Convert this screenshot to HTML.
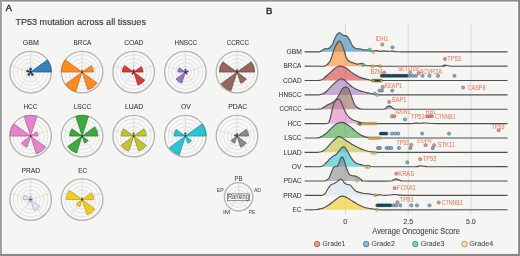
<!DOCTYPE html>
<html><head><meta charset="utf-8"><style>
html,body{margin:0;padding:0;background:#f5f5f3;}
body{width:520px;height:256px;overflow:hidden;}
svg{display:block;will-change:transform;}
text{font-family:"Liberation Sans",sans-serif;}
</style></head><body>
<svg width="520" height="256" viewBox="0 0 520 256">
<rect x="0" y="0" width="520" height="256" fill="#f5f5f3"/>
<text x="5.88" y="10.85" font-size="8.65" fill="#1e1e1e" stroke="#1e1e1e" stroke-width="0.35" textLength="6.14" lengthAdjust="spacingAndGlyphs">A</text>
<text x="266.12" y="14.40" font-size="9.01" fill="#1e1e1e" stroke="#1e1e1e" stroke-width="0.35" textLength="6.38" lengthAdjust="spacingAndGlyphs">B</text>
<text x="15.40" y="25.05" font-size="9.81" fill="#333" stroke="#333" stroke-width="0.12" textLength="130.53" lengthAdjust="spacingAndGlyphs">TP53 mutation across all tissues</text>
<circle cx="30.60" cy="72.10" r="20.80" fill="#f8f8f7"/>
<circle cx="30.60" cy="72.10" r="5.80" fill="none" stroke="#d9d7d4" stroke-width="0.7"/>
<circle cx="30.60" cy="72.10" r="9.60" fill="none" stroke="#d9d7d4" stroke-width="0.7"/>
<circle cx="30.60" cy="72.10" r="13.40" fill="none" stroke="#d9d7d4" stroke-width="0.7"/>
<circle cx="30.60" cy="72.10" r="17.20" fill="none" stroke="#d9d7d4" stroke-width="0.7"/>
<line x1="30.60" y1="72.10" x2="30.60" y2="51.30" stroke="#d9d7d4" stroke-width="0.7"/>
<line x1="30.60" y1="72.10" x2="50.38" y2="65.67" stroke="#d9d7d4" stroke-width="0.7"/>
<line x1="30.60" y1="72.10" x2="42.83" y2="88.93" stroke="#d9d7d4" stroke-width="0.7"/>
<line x1="30.60" y1="72.10" x2="18.37" y2="88.93" stroke="#d9d7d4" stroke-width="0.7"/>
<line x1="30.60" y1="72.10" x2="10.82" y2="65.67" stroke="#d9d7d4" stroke-width="0.7"/>
<circle cx="30.60" cy="72.10" r="20.80" fill="none" stroke="#b3b3b3" stroke-width="1.35"/>
<path d="M30.60,72.10 L31.82,68.34 A3.95,3.95 0 0 0 29.38,68.34 Z" fill="#1f3f60" stroke="#1f3f60" stroke-width="0.6" stroke-linejoin="round"/>
<path d="M30.60,72.10 L51.40,72.10 A20.80,20.80 0 0 0 47.43,59.87 Z" fill="#3484ba" stroke="#1f3f60" stroke-width="0.6" stroke-linejoin="round"/>
<path d="M30.60,72.10 L31.82,75.86 A3.95,3.95 0 0 0 33.80,74.42 Z" fill="#1f3f60" stroke="#1f3f60" stroke-width="0.6" stroke-linejoin="round"/>
<path d="M30.60,72.10 L27.40,74.42 A3.95,3.95 0 0 0 29.38,75.86 Z" fill="#1f3f60" stroke="#1f3f60" stroke-width="0.6" stroke-linejoin="round"/>
<path d="M30.60,72.10 L27.40,69.78 A3.95,3.95 0 0 0 26.65,72.10 Z" fill="#1f3f60" stroke="#1f3f60" stroke-width="0.6" stroke-linejoin="round"/>
<circle cx="30.60" cy="72.10" r="0.9" fill="#222"/>
<text x="22.85" y="44.60" font-size="7.55" fill="#363636" stroke="#363636" stroke-width="0.08" textLength="15.92" lengthAdjust="spacingAndGlyphs">GBM</text>
<circle cx="82.10" cy="72.10" r="20.80" fill="#f8f8f7"/>
<circle cx="82.10" cy="72.10" r="5.80" fill="none" stroke="#d9d7d4" stroke-width="0.7"/>
<circle cx="82.10" cy="72.10" r="9.60" fill="none" stroke="#d9d7d4" stroke-width="0.7"/>
<circle cx="82.10" cy="72.10" r="13.40" fill="none" stroke="#d9d7d4" stroke-width="0.7"/>
<circle cx="82.10" cy="72.10" r="17.20" fill="none" stroke="#d9d7d4" stroke-width="0.7"/>
<line x1="82.10" y1="72.10" x2="82.10" y2="51.30" stroke="#d9d7d4" stroke-width="0.7"/>
<line x1="82.10" y1="72.10" x2="101.88" y2="65.67" stroke="#d9d7d4" stroke-width="0.7"/>
<line x1="82.10" y1="72.10" x2="94.33" y2="88.93" stroke="#d9d7d4" stroke-width="0.7"/>
<line x1="82.10" y1="72.10" x2="69.87" y2="88.93" stroke="#d9d7d4" stroke-width="0.7"/>
<line x1="82.10" y1="72.10" x2="62.32" y2="65.67" stroke="#d9d7d4" stroke-width="0.7"/>
<circle cx="82.10" cy="72.10" r="20.80" fill="none" stroke="#b3b3b3" stroke-width="1.35"/>
<path d="M82.10,72.10 L82.74,70.12 A2.08,2.08 0 0 0 81.46,70.12 Z" fill="#b8600f" stroke="#b8600f" stroke-width="0.6" stroke-linejoin="round"/>
<path d="M82.10,72.10 L93.54,72.10 A11.44,11.44 0 0 0 91.36,65.38 Z" fill="#fb8b25" stroke="#b8600f" stroke-width="0.6" stroke-linejoin="round"/>
<path d="M82.10,72.10 L87.88,89.90 A18.72,18.72 0 0 0 97.24,83.10 Z" fill="#fb8b25" stroke="#b8600f" stroke-width="0.6" stroke-linejoin="round"/>
<path d="M82.10,72.10 L65.27,84.33 A20.80,20.80 0 0 0 75.67,91.88 Z" fill="#fb8b25" stroke="#b8600f" stroke-width="0.6" stroke-linejoin="round"/>
<path d="M82.10,72.10 L65.27,59.87 A20.80,20.80 0 0 0 61.30,72.10 Z" fill="#fb8b25" stroke="#b8600f" stroke-width="0.6" stroke-linejoin="round"/>
<circle cx="82.10" cy="72.10" r="0.9" fill="#222"/>
<text x="73.58" y="44.60" font-size="7.55" fill="#363636" stroke="#363636" stroke-width="0.08" textLength="17.64" lengthAdjust="spacingAndGlyphs">BRCA</text>
<circle cx="133.70" cy="72.10" r="20.80" fill="#f8f8f7"/>
<circle cx="133.70" cy="72.10" r="5.80" fill="none" stroke="#d9d7d4" stroke-width="0.7"/>
<circle cx="133.70" cy="72.10" r="9.60" fill="none" stroke="#d9d7d4" stroke-width="0.7"/>
<circle cx="133.70" cy="72.10" r="13.40" fill="none" stroke="#d9d7d4" stroke-width="0.7"/>
<circle cx="133.70" cy="72.10" r="17.20" fill="none" stroke="#d9d7d4" stroke-width="0.7"/>
<line x1="133.70" y1="72.10" x2="133.70" y2="51.30" stroke="#d9d7d4" stroke-width="0.7"/>
<line x1="133.70" y1="72.10" x2="153.48" y2="65.67" stroke="#d9d7d4" stroke-width="0.7"/>
<line x1="133.70" y1="72.10" x2="145.93" y2="88.93" stroke="#d9d7d4" stroke-width="0.7"/>
<line x1="133.70" y1="72.10" x2="121.47" y2="88.93" stroke="#d9d7d4" stroke-width="0.7"/>
<line x1="133.70" y1="72.10" x2="113.92" y2="65.67" stroke="#d9d7d4" stroke-width="0.7"/>
<circle cx="133.70" cy="72.10" r="20.80" fill="none" stroke="#b3b3b3" stroke-width="1.35"/>
<path d="M133.70,72.10 L134.47,69.73 A2.50,2.50 0 0 0 132.93,69.73 Z" fill="#8a1c1c" stroke="#8a1c1c" stroke-width="0.6" stroke-linejoin="round"/>
<path d="M133.70,72.10 L143.06,72.10 A9.36,9.36 0 0 0 141.27,66.60 Z" fill="#d63c3c" stroke="#8a1c1c" stroke-width="0.6" stroke-linejoin="round"/>
<path d="M133.70,72.10 L137.94,85.16 A13.73,13.73 0 0 0 144.81,80.17 Z" fill="#d63c3c" stroke="#8a1c1c" stroke-width="0.6" stroke-linejoin="round"/>
<path d="M133.70,72.10 L131.68,73.57 A2.50,2.50 0 0 0 132.93,74.47 Z" fill="#8a1c1c" stroke="#8a1c1c" stroke-width="0.6" stroke-linejoin="round"/>
<path d="M133.70,72.10 L124.44,65.38 A11.44,11.44 0 0 0 122.26,72.10 Z" fill="#d63c3c" stroke="#8a1c1c" stroke-width="0.6" stroke-linejoin="round"/>
<circle cx="133.70" cy="72.10" r="0.9" fill="#222"/>
<text x="124.27" y="44.60" font-size="7.55" fill="#363636" stroke="#363636" stroke-width="0.08" textLength="19.14" lengthAdjust="spacingAndGlyphs">COAD</text>
<circle cx="185.40" cy="72.10" r="20.80" fill="#f8f8f7"/>
<circle cx="185.40" cy="72.10" r="5.80" fill="none" stroke="#d9d7d4" stroke-width="0.7"/>
<circle cx="185.40" cy="72.10" r="9.60" fill="none" stroke="#d9d7d4" stroke-width="0.7"/>
<circle cx="185.40" cy="72.10" r="13.40" fill="none" stroke="#d9d7d4" stroke-width="0.7"/>
<circle cx="185.40" cy="72.10" r="17.20" fill="none" stroke="#d9d7d4" stroke-width="0.7"/>
<line x1="185.40" y1="72.10" x2="185.40" y2="51.30" stroke="#d9d7d4" stroke-width="0.7"/>
<line x1="185.40" y1="72.10" x2="205.18" y2="65.67" stroke="#d9d7d4" stroke-width="0.7"/>
<line x1="185.40" y1="72.10" x2="197.63" y2="88.93" stroke="#d9d7d4" stroke-width="0.7"/>
<line x1="185.40" y1="72.10" x2="173.17" y2="88.93" stroke="#d9d7d4" stroke-width="0.7"/>
<line x1="185.40" y1="72.10" x2="165.62" y2="65.67" stroke="#d9d7d4" stroke-width="0.7"/>
<circle cx="185.40" cy="72.10" r="20.80" fill="none" stroke="#b3b3b3" stroke-width="1.35"/>
<path d="M185.40,72.10 L186.30,69.33 A2.91,2.91 0 0 0 184.50,69.33 Z" fill="#5e3e80" stroke="#5e3e80" stroke-width="0.6" stroke-linejoin="round"/>
<path d="M185.40,72.10 L188.31,72.10 A2.91,2.91 0 0 0 187.76,70.39 Z" fill="#5e3e80" stroke="#5e3e80" stroke-width="0.6" stroke-linejoin="round"/>
<path d="M185.40,72.10 L186.17,74.47 A2.50,2.50 0 0 0 187.42,73.57 Z" fill="#5e3e80" stroke="#5e3e80" stroke-width="0.6" stroke-linejoin="round"/>
<path d="M185.40,72.10 L175.98,78.95 A11.65,11.65 0 0 0 181.80,83.18 Z" fill="#9e75c2" stroke="#5e3e80" stroke-width="0.6" stroke-linejoin="round"/>
<path d="M185.40,72.10 L179.34,67.70 A7.49,7.49 0 0 0 177.91,72.10 Z" fill="#9e75c2" stroke="#5e3e80" stroke-width="0.6" stroke-linejoin="round"/>
<circle cx="185.40" cy="72.10" r="0.9" fill="#222"/>
<text x="174.58" y="44.60" font-size="7.55" fill="#363636" stroke="#363636" stroke-width="0.08" textLength="22.55" lengthAdjust="spacingAndGlyphs">HNSCC</text>
<circle cx="237.00" cy="72.10" r="20.80" fill="#f8f8f7"/>
<circle cx="237.00" cy="72.10" r="5.80" fill="none" stroke="#d9d7d4" stroke-width="0.7"/>
<circle cx="237.00" cy="72.10" r="9.60" fill="none" stroke="#d9d7d4" stroke-width="0.7"/>
<circle cx="237.00" cy="72.10" r="13.40" fill="none" stroke="#d9d7d4" stroke-width="0.7"/>
<circle cx="237.00" cy="72.10" r="17.20" fill="none" stroke="#d9d7d4" stroke-width="0.7"/>
<line x1="237.00" y1="72.10" x2="237.00" y2="51.30" stroke="#d9d7d4" stroke-width="0.7"/>
<line x1="237.00" y1="72.10" x2="256.78" y2="65.67" stroke="#d9d7d4" stroke-width="0.7"/>
<line x1="237.00" y1="72.10" x2="249.23" y2="88.93" stroke="#d9d7d4" stroke-width="0.7"/>
<line x1="237.00" y1="72.10" x2="224.77" y2="88.93" stroke="#d9d7d4" stroke-width="0.7"/>
<line x1="237.00" y1="72.10" x2="217.22" y2="65.67" stroke="#d9d7d4" stroke-width="0.7"/>
<circle cx="237.00" cy="72.10" r="20.80" fill="none" stroke="#b3b3b3" stroke-width="1.35"/>
<path d="M237.00,72.10 L237.77,69.73 A2.50,2.50 0 0 0 236.23,69.73 Z" fill="#5a3530" stroke="#5a3530" stroke-width="0.6" stroke-linejoin="round"/>
<path d="M237.00,72.10 L254.68,72.10 A17.68,17.68 0 0 0 251.30,61.71 Z" fill="#97665c" stroke="#5a3530" stroke-width="0.6" stroke-linejoin="round"/>
<path d="M237.00,72.10 L240.60,83.18 A11.65,11.65 0 0 0 246.42,78.95 Z" fill="#97665c" stroke="#5a3530" stroke-width="0.6" stroke-linejoin="round"/>
<path d="M237.00,72.10 L221.01,83.71 A19.76,19.76 0 0 0 230.89,90.89 Z" fill="#97665c" stroke="#5a3530" stroke-width="0.6" stroke-linejoin="round"/>
<path d="M237.00,72.10 L222.70,61.71 A17.68,17.68 0 0 0 219.32,72.10 Z" fill="#97665c" stroke="#5a3530" stroke-width="0.6" stroke-linejoin="round"/>
<circle cx="237.00" cy="72.10" r="0.9" fill="#222"/>
<text x="226.69" y="44.60" font-size="7.55" fill="#363636" stroke="#363636" stroke-width="0.08" textLength="22.23" lengthAdjust="spacingAndGlyphs">CCRCC</text>
<circle cx="30.60" cy="136.10" r="20.80" fill="#f8f8f7"/>
<circle cx="30.60" cy="136.10" r="5.80" fill="none" stroke="#d9d7d4" stroke-width="0.7"/>
<circle cx="30.60" cy="136.10" r="9.60" fill="none" stroke="#d9d7d4" stroke-width="0.7"/>
<circle cx="30.60" cy="136.10" r="13.40" fill="none" stroke="#d9d7d4" stroke-width="0.7"/>
<circle cx="30.60" cy="136.10" r="17.20" fill="none" stroke="#d9d7d4" stroke-width="0.7"/>
<line x1="30.60" y1="136.10" x2="30.60" y2="115.30" stroke="#d9d7d4" stroke-width="0.7"/>
<line x1="30.60" y1="136.10" x2="50.38" y2="129.67" stroke="#d9d7d4" stroke-width="0.7"/>
<line x1="30.60" y1="136.10" x2="42.83" y2="152.93" stroke="#d9d7d4" stroke-width="0.7"/>
<line x1="30.60" y1="136.10" x2="18.37" y2="152.93" stroke="#d9d7d4" stroke-width="0.7"/>
<line x1="30.60" y1="136.10" x2="10.82" y2="129.67" stroke="#d9d7d4" stroke-width="0.7"/>
<circle cx="30.60" cy="136.10" r="20.80" fill="none" stroke="#b3b3b3" stroke-width="1.35"/>
<path d="M30.60,136.10 L37.03,116.32 A20.80,20.80 0 0 0 24.17,116.32 Z" fill="#e584c7" stroke="#a04f88" stroke-width="0.6" stroke-linejoin="round"/>
<path d="M30.60,136.10 L38.09,136.10 A7.49,7.49 0 0 0 36.66,131.70 Z" fill="#e584c7" stroke="#a04f88" stroke-width="0.6" stroke-linejoin="round"/>
<path d="M30.60,136.10 L36.38,153.90 A18.72,18.72 0 0 0 45.74,147.10 Z" fill="#e584c7" stroke="#a04f88" stroke-width="0.6" stroke-linejoin="round"/>
<path d="M30.60,136.10 L21.18,142.95 A11.65,11.65 0 0 0 27.00,147.18 Z" fill="#e584c7" stroke="#a04f88" stroke-width="0.6" stroke-linejoin="round"/>
<path d="M30.60,136.10 L13.77,123.87 A20.80,20.80 0 0 0 9.80,136.10 Z" fill="#e584c7" stroke="#a04f88" stroke-width="0.6" stroke-linejoin="round"/>
<circle cx="30.60" cy="136.10" r="0.9" fill="#222"/>
<text x="23.48" y="109.00" font-size="7.55" fill="#363636" stroke="#363636" stroke-width="0.08" textLength="13.86" lengthAdjust="spacingAndGlyphs">HCC</text>
<circle cx="82.10" cy="136.10" r="20.80" fill="#f8f8f7"/>
<circle cx="82.10" cy="136.10" r="5.80" fill="none" stroke="#d9d7d4" stroke-width="0.7"/>
<circle cx="82.10" cy="136.10" r="9.60" fill="none" stroke="#d9d7d4" stroke-width="0.7"/>
<circle cx="82.10" cy="136.10" r="13.40" fill="none" stroke="#d9d7d4" stroke-width="0.7"/>
<circle cx="82.10" cy="136.10" r="17.20" fill="none" stroke="#d9d7d4" stroke-width="0.7"/>
<line x1="82.10" y1="136.10" x2="82.10" y2="115.30" stroke="#d9d7d4" stroke-width="0.7"/>
<line x1="82.10" y1="136.10" x2="101.88" y2="129.67" stroke="#d9d7d4" stroke-width="0.7"/>
<line x1="82.10" y1="136.10" x2="94.33" y2="152.93" stroke="#d9d7d4" stroke-width="0.7"/>
<line x1="82.10" y1="136.10" x2="69.87" y2="152.93" stroke="#d9d7d4" stroke-width="0.7"/>
<line x1="82.10" y1="136.10" x2="62.32" y2="129.67" stroke="#d9d7d4" stroke-width="0.7"/>
<circle cx="82.10" cy="136.10" r="20.80" fill="none" stroke="#b3b3b3" stroke-width="1.35"/>
<path d="M82.10,136.10 L88.53,116.32 A20.80,20.80 0 0 0 75.67,116.32 Z" fill="#40a840" stroke="#1d6a22" stroke-width="0.6" stroke-linejoin="round"/>
<path d="M82.10,136.10 L97.91,136.10 A15.81,15.81 0 0 0 94.89,126.81 Z" fill="#40a840" stroke="#1d6a22" stroke-width="0.6" stroke-linejoin="round"/>
<path d="M82.10,136.10 L84.41,143.22 A7.49,7.49 0 0 0 88.16,140.50 Z" fill="#40a840" stroke="#1d6a22" stroke-width="0.6" stroke-linejoin="round"/>
<path d="M82.10,136.10 L67.63,146.61 A17.89,17.89 0 0 0 76.57,153.11 Z" fill="#40a840" stroke="#1d6a22" stroke-width="0.6" stroke-linejoin="round"/>
<path d="M82.10,136.10 L72.00,128.76 A12.48,12.48 0 0 0 69.62,136.10 Z" fill="#40a840" stroke="#1d6a22" stroke-width="0.6" stroke-linejoin="round"/>
<circle cx="82.10" cy="136.10" r="0.9" fill="#222"/>
<text x="73.66" y="109.00" font-size="7.55" fill="#363636" stroke="#363636" stroke-width="0.08" textLength="17.59" lengthAdjust="spacingAndGlyphs">LSCC</text>
<circle cx="133.70" cy="136.10" r="20.80" fill="#f8f8f7"/>
<circle cx="133.70" cy="136.10" r="5.80" fill="none" stroke="#d9d7d4" stroke-width="0.7"/>
<circle cx="133.70" cy="136.10" r="9.60" fill="none" stroke="#d9d7d4" stroke-width="0.7"/>
<circle cx="133.70" cy="136.10" r="13.40" fill="none" stroke="#d9d7d4" stroke-width="0.7"/>
<circle cx="133.70" cy="136.10" r="17.20" fill="none" stroke="#d9d7d4" stroke-width="0.7"/>
<line x1="133.70" y1="136.10" x2="133.70" y2="115.30" stroke="#d9d7d4" stroke-width="0.7"/>
<line x1="133.70" y1="136.10" x2="153.48" y2="129.67" stroke="#d9d7d4" stroke-width="0.7"/>
<line x1="133.70" y1="136.10" x2="145.93" y2="152.93" stroke="#d9d7d4" stroke-width="0.7"/>
<line x1="133.70" y1="136.10" x2="121.47" y2="152.93" stroke="#d9d7d4" stroke-width="0.7"/>
<line x1="133.70" y1="136.10" x2="113.92" y2="129.67" stroke="#d9d7d4" stroke-width="0.7"/>
<circle cx="133.70" cy="136.10" r="20.80" fill="none" stroke="#b3b3b3" stroke-width="1.35"/>
<path d="M133.70,136.10 L134.73,132.93 A3.33,3.33 0 0 0 132.67,132.93 Z" fill="#7d7e14" stroke="#7d7e14" stroke-width="0.6" stroke-linejoin="round"/>
<path d="M133.70,136.10 L146.18,136.10 A12.48,12.48 0 0 0 143.80,128.76 Z" fill="#c2c337" stroke="#7d7e14" stroke-width="0.6" stroke-linejoin="round"/>
<path d="M133.70,136.10 L138.58,151.13 A15.81,15.81 0 0 0 146.49,145.39 Z" fill="#c2c337" stroke="#7d7e14" stroke-width="0.6" stroke-linejoin="round"/>
<path d="M133.70,136.10 L120.91,145.39 A15.81,15.81 0 0 0 128.82,151.13 Z" fill="#c2c337" stroke="#7d7e14" stroke-width="0.6" stroke-linejoin="round"/>
<path d="M133.70,136.10 L123.60,128.76 A12.48,12.48 0 0 0 121.22,136.10 Z" fill="#c2c337" stroke="#7d7e14" stroke-width="0.6" stroke-linejoin="round"/>
<circle cx="133.70" cy="136.10" r="0.9" fill="#222"/>
<text x="124.93" y="109.00" font-size="7.55" fill="#363636" stroke="#363636" stroke-width="0.08" textLength="18.39" lengthAdjust="spacingAndGlyphs">LUAD</text>
<circle cx="185.40" cy="136.10" r="20.80" fill="#f8f8f7"/>
<circle cx="185.40" cy="136.10" r="5.80" fill="none" stroke="#d9d7d4" stroke-width="0.7"/>
<circle cx="185.40" cy="136.10" r="9.60" fill="none" stroke="#d9d7d4" stroke-width="0.7"/>
<circle cx="185.40" cy="136.10" r="13.40" fill="none" stroke="#d9d7d4" stroke-width="0.7"/>
<circle cx="185.40" cy="136.10" r="17.20" fill="none" stroke="#d9d7d4" stroke-width="0.7"/>
<line x1="185.40" y1="136.10" x2="185.40" y2="115.30" stroke="#d9d7d4" stroke-width="0.7"/>
<line x1="185.40" y1="136.10" x2="205.18" y2="129.67" stroke="#d9d7d4" stroke-width="0.7"/>
<line x1="185.40" y1="136.10" x2="197.63" y2="152.93" stroke="#d9d7d4" stroke-width="0.7"/>
<line x1="185.40" y1="136.10" x2="173.17" y2="152.93" stroke="#d9d7d4" stroke-width="0.7"/>
<line x1="185.40" y1="136.10" x2="165.62" y2="129.67" stroke="#d9d7d4" stroke-width="0.7"/>
<circle cx="185.40" cy="136.10" r="20.80" fill="none" stroke="#b3b3b3" stroke-width="1.35"/>
<path d="M185.40,136.10 L186.43,132.93 A3.33,3.33 0 0 0 184.37,132.93 Z" fill="#127c88" stroke="#127c88" stroke-width="0.6" stroke-linejoin="round"/>
<path d="M185.40,136.10 L206.20,136.10 A20.80,20.80 0 0 0 202.23,123.87 Z" fill="#2dc3d3" stroke="#127c88" stroke-width="0.6" stroke-linejoin="round"/>
<path d="M185.40,136.10 L187.71,143.22 A7.49,7.49 0 0 0 191.46,140.50 Z" fill="#2dc3d3" stroke="#127c88" stroke-width="0.6" stroke-linejoin="round"/>
<path d="M185.40,136.10 L169.41,147.71 A19.76,19.76 0 0 0 179.29,154.89 Z" fill="#2dc3d3" stroke="#127c88" stroke-width="0.6" stroke-linejoin="round"/>
<path d="M185.40,136.10 L176.14,129.38 A11.44,11.44 0 0 0 173.96,136.10 Z" fill="#2dc3d3" stroke="#127c88" stroke-width="0.6" stroke-linejoin="round"/>
<circle cx="185.40" cy="136.10" r="0.9" fill="#222"/>
<text x="180.93" y="109.00" font-size="7.55" fill="#363636" stroke="#363636" stroke-width="0.08" textLength="9.85" lengthAdjust="spacingAndGlyphs">OV</text>
<circle cx="237.00" cy="136.10" r="20.80" fill="#f8f8f7"/>
<circle cx="237.00" cy="136.10" r="5.80" fill="none" stroke="#d9d7d4" stroke-width="0.7"/>
<circle cx="237.00" cy="136.10" r="9.60" fill="none" stroke="#d9d7d4" stroke-width="0.7"/>
<circle cx="237.00" cy="136.10" r="13.40" fill="none" stroke="#d9d7d4" stroke-width="0.7"/>
<circle cx="237.00" cy="136.10" r="17.20" fill="none" stroke="#d9d7d4" stroke-width="0.7"/>
<line x1="237.00" y1="136.10" x2="237.00" y2="115.30" stroke="#d9d7d4" stroke-width="0.7"/>
<line x1="237.00" y1="136.10" x2="256.78" y2="129.67" stroke="#d9d7d4" stroke-width="0.7"/>
<line x1="237.00" y1="136.10" x2="249.23" y2="152.93" stroke="#d9d7d4" stroke-width="0.7"/>
<line x1="237.00" y1="136.10" x2="224.77" y2="152.93" stroke="#d9d7d4" stroke-width="0.7"/>
<line x1="237.00" y1="136.10" x2="217.22" y2="129.67" stroke="#d9d7d4" stroke-width="0.7"/>
<circle cx="237.00" cy="136.10" r="20.80" fill="none" stroke="#b3b3b3" stroke-width="1.35"/>
<path d="M237.00,136.10 L237.84,133.53 A2.70,2.70 0 0 0 236.16,133.53 Z" fill="#4f4f4f" stroke="#4f4f4f" stroke-width="0.6" stroke-linejoin="round"/>
<path d="M237.00,136.10 L248.65,136.10 A11.65,11.65 0 0 0 246.42,129.25 Z" fill="#8b8b8b" stroke="#4f4f4f" stroke-width="0.6" stroke-linejoin="round"/>
<path d="M237.00,136.10 L240.60,147.18 A11.65,11.65 0 0 0 246.42,142.95 Z" fill="#8b8b8b" stroke="#4f4f4f" stroke-width="0.6" stroke-linejoin="round"/>
<path d="M237.00,136.10 L230.94,140.50 A7.49,7.49 0 0 0 234.69,143.22 Z" fill="#8b8b8b" stroke="#4f4f4f" stroke-width="0.6" stroke-linejoin="round"/>
<path d="M237.00,136.10 L234.81,134.51 A2.70,2.70 0 0 0 234.30,136.10 Z" fill="#4f4f4f" stroke="#4f4f4f" stroke-width="0.6" stroke-linejoin="round"/>
<circle cx="237.00" cy="136.10" r="0.9" fill="#222"/>
<text x="228.19" y="109.00" font-size="7.55" fill="#363636" stroke="#363636" stroke-width="0.08" textLength="19.07" lengthAdjust="spacingAndGlyphs">PDAC</text>
<circle cx="30.60" cy="199.60" r="20.80" fill="#f8f8f7"/>
<circle cx="30.60" cy="199.60" r="5.80" fill="none" stroke="#d9d7d4" stroke-width="0.7"/>
<circle cx="30.60" cy="199.60" r="9.60" fill="none" stroke="#d9d7d4" stroke-width="0.7"/>
<circle cx="30.60" cy="199.60" r="13.40" fill="none" stroke="#d9d7d4" stroke-width="0.7"/>
<circle cx="30.60" cy="199.60" r="17.20" fill="none" stroke="#d9d7d4" stroke-width="0.7"/>
<line x1="30.60" y1="199.60" x2="30.60" y2="178.80" stroke="#d9d7d4" stroke-width="0.7"/>
<line x1="30.60" y1="199.60" x2="50.38" y2="193.17" stroke="#d9d7d4" stroke-width="0.7"/>
<line x1="30.60" y1="199.60" x2="42.83" y2="216.43" stroke="#d9d7d4" stroke-width="0.7"/>
<line x1="30.60" y1="199.60" x2="18.37" y2="216.43" stroke="#d9d7d4" stroke-width="0.7"/>
<line x1="30.60" y1="199.60" x2="10.82" y2="193.17" stroke="#d9d7d4" stroke-width="0.7"/>
<circle cx="30.60" cy="199.60" r="20.80" fill="none" stroke="#b3b3b3" stroke-width="1.35"/>
<path d="M30.60,199.60 L31.63,196.43 A3.33,3.33 0 0 0 29.57,196.43 Z" fill="#dce7f3" stroke="#8d99a6" stroke-width="0.6" stroke-linejoin="round"/>
<path d="M30.60,199.60 L32.68,199.60 A2.08,2.08 0 0 0 32.28,198.38 Z" fill="#dce7f3" stroke="#8d99a6" stroke-width="0.6" stroke-linejoin="round"/>
<path d="M30.60,199.60 L34.20,210.68 A11.65,11.65 0 0 0 40.02,206.45 Z" fill="#dce7f3" stroke="#8d99a6" stroke-width="0.6" stroke-linejoin="round"/>
<path d="M30.60,199.60 L27.91,201.56 A3.33,3.33 0 0 0 29.57,202.77 Z" fill="#dce7f3" stroke="#8d99a6" stroke-width="0.6" stroke-linejoin="round"/>
<path d="M30.60,199.60 L24.54,195.20 A7.49,7.49 0 0 0 23.11,199.60 Z" fill="#dce7f3" stroke="#8d99a6" stroke-width="0.6" stroke-linejoin="round"/>
<circle cx="30.60" cy="199.60" r="0.9" fill="#222"/>
<text x="21.45" y="172.80" font-size="7.55" fill="#363636" stroke="#363636" stroke-width="0.08" textLength="18.67" lengthAdjust="spacingAndGlyphs">PRAD</text>
<circle cx="82.10" cy="199.60" r="20.80" fill="#f8f8f7"/>
<circle cx="82.10" cy="199.60" r="5.80" fill="none" stroke="#d9d7d4" stroke-width="0.7"/>
<circle cx="82.10" cy="199.60" r="9.60" fill="none" stroke="#d9d7d4" stroke-width="0.7"/>
<circle cx="82.10" cy="199.60" r="13.40" fill="none" stroke="#d9d7d4" stroke-width="0.7"/>
<circle cx="82.10" cy="199.60" r="17.20" fill="none" stroke="#d9d7d4" stroke-width="0.7"/>
<line x1="82.10" y1="199.60" x2="82.10" y2="178.80" stroke="#d9d7d4" stroke-width="0.7"/>
<line x1="82.10" y1="199.60" x2="101.88" y2="193.17" stroke="#d9d7d4" stroke-width="0.7"/>
<line x1="82.10" y1="199.60" x2="94.33" y2="216.43" stroke="#d9d7d4" stroke-width="0.7"/>
<line x1="82.10" y1="199.60" x2="69.87" y2="216.43" stroke="#d9d7d4" stroke-width="0.7"/>
<line x1="82.10" y1="199.60" x2="62.32" y2="193.17" stroke="#d9d7d4" stroke-width="0.7"/>
<circle cx="82.10" cy="199.60" r="20.80" fill="none" stroke="#b3b3b3" stroke-width="1.35"/>
<path d="M82.10,199.60 L82.74,197.62 A2.08,2.08 0 0 0 81.46,197.62 Z" fill="#a88a0c" stroke="#a88a0c" stroke-width="0.6" stroke-linejoin="round"/>
<path d="M82.10,199.60 L93.75,199.60 A11.65,11.65 0 0 0 91.52,192.75 Z" fill="#f4cd1c" stroke="#a88a0c" stroke-width="0.6" stroke-linejoin="round"/>
<path d="M82.10,199.60 L86.98,214.63 A15.81,15.81 0 0 0 94.89,208.89 Z" fill="#f4cd1c" stroke="#a88a0c" stroke-width="0.6" stroke-linejoin="round"/>
<path d="M82.10,199.60 L76.04,204.00 A7.49,7.49 0 0 0 79.79,206.72 Z" fill="#f4cd1c" stroke="#a88a0c" stroke-width="0.6" stroke-linejoin="round"/>
<path d="M82.10,199.60 L69.31,190.31 A15.81,15.81 0 0 0 66.29,199.60 Z" fill="#f4cd1c" stroke="#a88a0c" stroke-width="0.6" stroke-linejoin="round"/>
<circle cx="82.10" cy="199.60" r="0.9" fill="#222"/>
<text x="78.17" y="172.80" font-size="7.55" fill="#363636" stroke="#363636" stroke-width="0.08" textLength="8.97" lengthAdjust="spacingAndGlyphs">EC</text>
<circle cx="238.6" cy="196.8" r="14.2" fill="#f8f8f7"/>
<circle cx="238.60" cy="196.80" r="3.60" fill="none" stroke="#d9d7d4" stroke-width="0.7"/>
<circle cx="238.60" cy="196.80" r="7.00" fill="none" stroke="#d9d7d4" stroke-width="0.7"/>
<circle cx="238.60" cy="196.80" r="10.40" fill="none" stroke="#d9d7d4" stroke-width="0.7"/>
<line x1="238.60" y1="196.80" x2="238.60" y2="182.60" stroke="#d9d7d4" stroke-width="0.7"/>
<line x1="238.60" y1="196.80" x2="252.11" y2="192.41" stroke="#d9d7d4" stroke-width="0.7"/>
<line x1="238.60" y1="196.80" x2="246.95" y2="208.29" stroke="#d9d7d4" stroke-width="0.7"/>
<line x1="238.60" y1="196.80" x2="230.25" y2="208.29" stroke="#d9d7d4" stroke-width="0.7"/>
<line x1="238.60" y1="196.80" x2="225.09" y2="192.41" stroke="#d9d7d4" stroke-width="0.7"/>
<circle cx="238.60" cy="196.80" r="14.20" fill="none" stroke="#b4b4b4" stroke-width="1.35"/>
<rect x="227.4" y="193.9" width="22.2" height="6.8" fill="#f8f8f7" stroke="#666" stroke-width="0.7"/>
<text x="227.93" y="199.40" font-size="6.47" fill="#444" textLength="21.04" lengthAdjust="spacingAndGlyphs">Ranking</text>
<text x="234.51" y="180.50" font-size="6.32" fill="#444" stroke="#444" stroke-width="0.03" textLength="8.00" lengthAdjust="spacingAndGlyphs">PB</text>
<text x="253.89" y="192.00" font-size="6.16" fill="#444" stroke="#444" stroke-width="0.03" textLength="7.15" lengthAdjust="spacingAndGlyphs">AD</text>
<text x="248.79" y="213.90" font-size="6.16" fill="#444" stroke="#444" stroke-width="0.03" textLength="6.61" lengthAdjust="spacingAndGlyphs">PE</text>
<text x="223.00" y="213.90" font-size="6.16" fill="#444" stroke="#444" stroke-width="0.03" textLength="7.23" lengthAdjust="spacingAndGlyphs">IM</text>
<text x="216.87" y="192.00" font-size="6.16" fill="#444" stroke="#444" stroke-width="0.03" textLength="7.00" lengthAdjust="spacingAndGlyphs">EP</text>
<line x1="345.4" y1="23.7" x2="345.4" y2="214.3" stroke="#d2d2d0" stroke-width="0.8"/>
<line x1="408.2" y1="23.7" x2="408.2" y2="214.3" stroke="#d2d2d0" stroke-width="0.8"/>
<line x1="470.9" y1="23.7" x2="470.9" y2="214.3" stroke="#d2d2d0" stroke-width="0.8"/>
<path d="M304.6,51.80 L319.90,51.80 C320.38,51.50 321.98,50.50 322.80,50.00 C323.62,49.50 323.98,49.02 324.80,48.80 C325.62,48.58 326.82,48.92 327.70,48.70 C328.58,48.48 329.28,48.27 330.10,47.50 C330.92,46.73 331.87,45.48 332.60,44.10 C333.33,42.72 333.85,40.67 334.50,39.20 C335.15,37.73 335.85,36.30 336.50,35.30 C337.15,34.30 337.88,33.63 338.40,33.20 C338.92,32.77 339.10,32.58 339.60,32.70 C340.10,32.82 340.78,33.47 341.40,33.90 C342.02,34.33 342.73,35.02 343.30,35.30 C343.87,35.58 344.31,35.52 344.80,35.60 C345.29,35.68 345.68,35.43 346.25,35.80 C346.82,36.17 347.54,36.90 348.20,37.80 C348.86,38.70 349.55,39.98 350.20,41.20 C350.85,42.42 351.47,44.05 352.10,45.10 C352.73,46.15 353.18,46.90 354.00,47.50 C354.82,48.10 355.85,48.45 357.00,48.70 C358.15,48.95 359.77,48.77 360.90,49.00 C362.03,49.23 362.87,49.95 363.80,50.10 C364.73,50.25 365.55,49.83 366.50,49.90 C367.45,49.97 368.50,50.30 369.50,50.50 C370.50,50.70 371.42,51.10 372.50,51.10 C373.58,51.10 374.75,50.47 376.00,50.50 C377.25,50.53 378.67,51.23 380.00,51.30 C381.33,51.37 382.67,50.88 384.00,50.90 C385.33,50.92 386.67,51.37 388.00,51.40 C389.33,51.43 390.67,51.05 392.00,51.10 C393.33,51.15 394.67,51.58 396.00,51.70 C397.33,51.82 399.33,51.78 400.00,51.80 L507.6,51.80 Z" fill="#1f77b4" fill-opacity="0.52" stroke="none"/>
<path d="M304.6,51.80 L319.90,51.80 C320.38,51.50 321.98,50.50 322.80,50.00 C323.62,49.50 323.98,49.02 324.80,48.80 C325.62,48.58 326.82,48.92 327.70,48.70 C328.58,48.48 329.28,48.27 330.10,47.50 C330.92,46.73 331.87,45.48 332.60,44.10 C333.33,42.72 333.85,40.67 334.50,39.20 C335.15,37.73 335.85,36.30 336.50,35.30 C337.15,34.30 337.88,33.63 338.40,33.20 C338.92,32.77 339.10,32.58 339.60,32.70 C340.10,32.82 340.78,33.47 341.40,33.90 C342.02,34.33 342.73,35.02 343.30,35.30 C343.87,35.58 344.31,35.52 344.80,35.60 C345.29,35.68 345.68,35.43 346.25,35.80 C346.82,36.17 347.54,36.90 348.20,37.80 C348.86,38.70 349.55,39.98 350.20,41.20 C350.85,42.42 351.47,44.05 352.10,45.10 C352.73,46.15 353.18,46.90 354.00,47.50 C354.82,48.10 355.85,48.45 357.00,48.70 C358.15,48.95 359.77,48.77 360.90,49.00 C362.03,49.23 362.87,49.95 363.80,50.10 C364.73,50.25 365.55,49.83 366.50,49.90 C367.45,49.97 368.50,50.30 369.50,50.50 C370.50,50.70 371.42,51.10 372.50,51.10 C373.58,51.10 374.75,50.47 376.00,50.50 C377.25,50.53 378.67,51.23 380.00,51.30 C381.33,51.37 382.67,50.88 384.00,50.90 C385.33,50.92 386.67,51.37 388.00,51.40 C389.33,51.43 390.67,51.05 392.00,51.10 C393.33,51.15 394.67,51.58 396.00,51.70 C397.33,51.82 399.33,51.78 400.00,51.80 L507.6,51.80" fill="none" stroke="#505050" stroke-width="1.15" stroke-linejoin="round"/>
<text x="286.56" y="54.00" font-size="7.24" fill="#3a3a3a" stroke="#3a3a3a" stroke-width="0.08" textLength="15.28" lengthAdjust="spacingAndGlyphs">GBM</text>
<path d="M304.6,66.16 L323.50,66.20 C323.83,66.12 324.88,65.98 325.50,65.70 C326.12,65.42 326.62,65.00 327.20,64.50 C327.78,64.00 328.48,63.33 329.00,62.70 C329.52,62.07 329.80,61.82 330.30,60.70 C330.80,59.58 331.48,57.53 332.00,56.00 C332.52,54.47 332.90,52.95 333.40,51.50 C333.90,50.05 334.47,48.53 335.00,47.30 C335.53,46.07 336.03,45.07 336.60,44.10 C337.17,43.13 337.93,42.00 338.40,41.50 C338.87,41.00 339.05,41.10 339.40,41.10 C339.75,41.10 340.02,40.83 340.50,41.50 C340.98,42.17 341.67,43.52 342.30,45.10 C342.93,46.68 343.68,49.02 344.30,51.00 C344.92,52.98 345.42,55.50 346.00,57.00 C346.58,58.50 347.05,59.18 347.80,60.00 C348.55,60.82 349.47,61.38 350.50,61.90 C351.53,62.42 352.92,62.73 354.00,63.10 C355.08,63.47 356.08,63.98 357.00,64.10 C357.92,64.22 358.75,63.92 359.50,63.80 C360.25,63.68 360.83,63.35 361.50,63.40 C362.17,63.45 362.75,63.75 363.50,64.10 C364.25,64.45 364.92,65.22 366.00,65.50 C367.08,65.78 368.50,65.72 370.00,65.80 C371.50,65.88 373.33,66.00 375.00,66.00 C376.67,66.00 378.33,65.77 380.00,65.80 C381.67,65.83 375.00,66.13 385.00,66.20 C395.00,66.27 430.33,66.32 440.00,66.20 C449.67,66.08 442.17,65.70 443.00,65.50 C443.83,65.30 444.33,65.00 445.00,65.00 C445.67,65.00 446.17,65.30 447.00,65.50 C447.83,65.70 449.50,66.08 450.00,66.20 L507.6,66.16 Z" fill="#ff7f0e" fill-opacity="0.52" stroke="none"/>
<path d="M304.6,66.16 L323.50,66.20 C323.83,66.12 324.88,65.98 325.50,65.70 C326.12,65.42 326.62,65.00 327.20,64.50 C327.78,64.00 328.48,63.33 329.00,62.70 C329.52,62.07 329.80,61.82 330.30,60.70 C330.80,59.58 331.48,57.53 332.00,56.00 C332.52,54.47 332.90,52.95 333.40,51.50 C333.90,50.05 334.47,48.53 335.00,47.30 C335.53,46.07 336.03,45.07 336.60,44.10 C337.17,43.13 337.93,42.00 338.40,41.50 C338.87,41.00 339.05,41.10 339.40,41.10 C339.75,41.10 340.02,40.83 340.50,41.50 C340.98,42.17 341.67,43.52 342.30,45.10 C342.93,46.68 343.68,49.02 344.30,51.00 C344.92,52.98 345.42,55.50 346.00,57.00 C346.58,58.50 347.05,59.18 347.80,60.00 C348.55,60.82 349.47,61.38 350.50,61.90 C351.53,62.42 352.92,62.73 354.00,63.10 C355.08,63.47 356.08,63.98 357.00,64.10 C357.92,64.22 358.75,63.92 359.50,63.80 C360.25,63.68 360.83,63.35 361.50,63.40 C362.17,63.45 362.75,63.75 363.50,64.10 C364.25,64.45 364.92,65.22 366.00,65.50 C367.08,65.78 368.50,65.72 370.00,65.80 C371.50,65.88 373.33,66.00 375.00,66.00 C376.67,66.00 378.33,65.77 380.00,65.80 C381.67,65.83 375.00,66.13 385.00,66.20 C395.00,66.27 430.33,66.32 440.00,66.20 C449.67,66.08 442.17,65.70 443.00,65.50 C443.83,65.30 444.33,65.00 445.00,65.00 C445.67,65.00 446.17,65.30 447.00,65.50 C447.83,65.70 449.50,66.08 450.00,66.20 L507.6,66.16" fill="none" stroke="#505050" stroke-width="1.15" stroke-linejoin="round"/>
<text x="283.47" y="68.36" font-size="7.24" fill="#3a3a3a" stroke="#3a3a3a" stroke-width="0.08" textLength="17.84" lengthAdjust="spacingAndGlyphs">BRCA</text>
<path d="M304.6,80.52 L318.50,80.50 C318.83,80.43 319.78,80.33 320.50,80.10 C321.22,79.87 321.88,79.73 322.80,79.10 C323.72,78.47 325.05,77.13 326.00,76.30 C326.95,75.47 327.73,74.77 328.50,74.10 C329.27,73.43 329.90,72.93 330.60,72.30 C331.30,71.67 332.05,70.90 332.70,70.30 C333.35,69.70 333.87,69.20 334.50,68.70 C335.13,68.20 335.85,67.68 336.50,67.30 C337.15,66.92 337.82,66.60 338.40,66.40 C338.98,66.20 339.47,66.12 340.00,66.10 C340.53,66.08 341.10,66.19 341.60,66.30 C342.10,66.41 342.23,66.42 343.00,66.75 C343.77,67.08 345.18,67.64 346.25,68.30 C347.32,68.96 348.36,69.92 349.40,70.70 C350.44,71.48 351.33,72.23 352.50,73.00 C353.67,73.77 355.10,74.57 356.40,75.30 C357.70,76.03 358.87,76.80 360.30,77.40 C361.73,78.00 363.43,78.47 365.00,78.90 C366.57,79.33 368.37,79.73 369.70,80.00 C371.03,80.27 372.45,80.42 373.00,80.50 L507.6,80.52 Z" fill="#d62728" fill-opacity="0.52" stroke="none"/>
<path d="M304.6,80.52 L318.50,80.50 C318.83,80.43 319.78,80.33 320.50,80.10 C321.22,79.87 321.88,79.73 322.80,79.10 C323.72,78.47 325.05,77.13 326.00,76.30 C326.95,75.47 327.73,74.77 328.50,74.10 C329.27,73.43 329.90,72.93 330.60,72.30 C331.30,71.67 332.05,70.90 332.70,70.30 C333.35,69.70 333.87,69.20 334.50,68.70 C335.13,68.20 335.85,67.68 336.50,67.30 C337.15,66.92 337.82,66.60 338.40,66.40 C338.98,66.20 339.47,66.12 340.00,66.10 C340.53,66.08 341.10,66.19 341.60,66.30 C342.10,66.41 342.23,66.42 343.00,66.75 C343.77,67.08 345.18,67.64 346.25,68.30 C347.32,68.96 348.36,69.92 349.40,70.70 C350.44,71.48 351.33,72.23 352.50,73.00 C353.67,73.77 355.10,74.57 356.40,75.30 C357.70,76.03 358.87,76.80 360.30,77.40 C361.73,78.00 363.43,78.47 365.00,78.90 C366.57,79.33 368.37,79.73 369.70,80.00 C371.03,80.27 372.45,80.42 373.00,80.50 L507.6,80.52" fill="none" stroke="#505050" stroke-width="1.15" stroke-linejoin="round"/>
<text x="282.88" y="82.72" font-size="7.24" fill="#3a3a3a" stroke="#3a3a3a" stroke-width="0.08" textLength="18.73" lengthAdjust="spacingAndGlyphs">COAD</text>
<path d="M304.6,94.88 L319.00,94.90 C319.38,94.80 320.45,94.57 321.25,94.30 C322.05,94.03 323.01,93.72 323.80,93.30 C324.59,92.88 325.25,92.40 326.00,91.80 C326.75,91.20 327.53,90.48 328.30,89.70 C329.07,88.92 329.69,88.07 330.60,87.10 C331.51,86.13 332.85,84.77 333.75,83.90 C334.65,83.03 335.23,82.55 336.00,81.90 C336.77,81.25 337.70,80.48 338.40,80.00 C339.10,79.52 339.67,79.20 340.20,79.00 C340.73,78.80 341.10,78.75 341.60,78.80 C342.10,78.85 342.68,79.08 343.20,79.30 C343.72,79.52 343.93,79.45 344.70,80.10 C345.47,80.75 346.92,82.35 347.80,83.20 C348.68,84.05 349.22,84.55 350.00,85.20 C350.78,85.85 351.70,86.53 352.50,87.10 C353.30,87.67 354.02,88.15 354.80,88.60 C355.58,89.05 356.28,89.42 357.20,89.80 C358.12,90.18 359.27,90.57 360.30,90.90 C361.33,91.23 362.37,91.52 363.40,91.80 C364.43,92.08 365.45,92.35 366.50,92.60 C367.55,92.85 368.38,93.03 369.70,93.30 C371.02,93.57 373.02,93.93 374.40,94.20 C375.78,94.47 377.40,94.78 378.00,94.90 L507.6,94.88 Z" fill="#9467bd" fill-opacity="0.52" stroke="none"/>
<path d="M304.6,94.88 L319.00,94.90 C319.38,94.80 320.45,94.57 321.25,94.30 C322.05,94.03 323.01,93.72 323.80,93.30 C324.59,92.88 325.25,92.40 326.00,91.80 C326.75,91.20 327.53,90.48 328.30,89.70 C329.07,88.92 329.69,88.07 330.60,87.10 C331.51,86.13 332.85,84.77 333.75,83.90 C334.65,83.03 335.23,82.55 336.00,81.90 C336.77,81.25 337.70,80.48 338.40,80.00 C339.10,79.52 339.67,79.20 340.20,79.00 C340.73,78.80 341.10,78.75 341.60,78.80 C342.10,78.85 342.68,79.08 343.20,79.30 C343.72,79.52 343.93,79.45 344.70,80.10 C345.47,80.75 346.92,82.35 347.80,83.20 C348.68,84.05 349.22,84.55 350.00,85.20 C350.78,85.85 351.70,86.53 352.50,87.10 C353.30,87.67 354.02,88.15 354.80,88.60 C355.58,89.05 356.28,89.42 357.20,89.80 C358.12,90.18 359.27,90.57 360.30,90.90 C361.33,91.23 362.37,91.52 363.40,91.80 C364.43,92.08 365.45,92.35 366.50,92.60 C367.55,92.85 368.38,93.03 369.70,93.30 C371.02,93.57 373.02,93.93 374.40,94.20 C375.78,94.47 377.40,94.78 378.00,94.90 L507.6,94.88" fill="none" stroke="#505050" stroke-width="1.15" stroke-linejoin="round"/>
<text x="278.78" y="97.08" font-size="7.24" fill="#3a3a3a" stroke="#3a3a3a" stroke-width="0.08" textLength="22.76" lengthAdjust="spacingAndGlyphs">HNSCC</text>
<path d="M304.6,109.24 L318.00,109.20 C318.62,109.13 320.73,109.12 321.70,108.80 C322.67,108.48 323.15,107.78 323.80,107.30 C324.45,106.82 324.78,106.40 325.60,105.90 C326.43,105.40 327.85,104.72 328.75,104.30 C329.65,103.88 330.23,103.78 331.00,103.40 C331.77,103.02 332.60,102.62 333.40,102.00 C334.20,101.38 335.03,100.62 335.80,99.70 C336.57,98.78 337.30,97.62 338.00,96.50 C338.70,95.38 339.42,94.08 340.00,93.00 C340.58,91.92 340.97,90.83 341.50,90.00 C342.03,89.17 342.62,88.47 343.20,88.00 C343.78,87.53 344.40,87.30 345.00,87.20 C345.60,87.10 346.22,87.18 346.80,87.40 C347.38,87.62 347.97,87.73 348.50,88.50 C349.03,89.27 349.38,90.33 350.00,92.00 C350.62,93.67 351.57,96.72 352.20,98.50 C352.83,100.28 353.28,101.53 353.80,102.70 C354.32,103.87 354.77,104.73 355.30,105.50 C355.83,106.27 356.42,106.82 357.00,107.30 C357.58,107.78 358.13,108.12 358.80,108.40 C359.47,108.68 360.13,108.87 361.00,109.00 C361.87,109.13 360.33,109.17 364.00,109.20 C367.67,109.23 379.42,109.33 383.00,109.20 C386.58,109.07 384.75,108.85 385.50,108.40 C386.25,107.95 386.88,106.93 387.50,106.50 C388.12,106.07 388.62,105.80 389.20,105.80 C389.78,105.80 390.37,106.07 391.00,106.50 C391.63,106.93 392.33,107.95 393.00,108.40 C393.67,108.85 394.67,109.07 395.00,109.20 L507.6,109.24 Z" fill="#8c564b" fill-opacity="0.52" stroke="none"/>
<path d="M304.6,109.24 L318.00,109.20 C318.62,109.13 320.73,109.12 321.70,108.80 C322.67,108.48 323.15,107.78 323.80,107.30 C324.45,106.82 324.78,106.40 325.60,105.90 C326.43,105.40 327.85,104.72 328.75,104.30 C329.65,103.88 330.23,103.78 331.00,103.40 C331.77,103.02 332.60,102.62 333.40,102.00 C334.20,101.38 335.03,100.62 335.80,99.70 C336.57,98.78 337.30,97.62 338.00,96.50 C338.70,95.38 339.42,94.08 340.00,93.00 C340.58,91.92 340.97,90.83 341.50,90.00 C342.03,89.17 342.62,88.47 343.20,88.00 C343.78,87.53 344.40,87.30 345.00,87.20 C345.60,87.10 346.22,87.18 346.80,87.40 C347.38,87.62 347.97,87.73 348.50,88.50 C349.03,89.27 349.38,90.33 350.00,92.00 C350.62,93.67 351.57,96.72 352.20,98.50 C352.83,100.28 353.28,101.53 353.80,102.70 C354.32,103.87 354.77,104.73 355.30,105.50 C355.83,106.27 356.42,106.82 357.00,107.30 C357.58,107.78 358.13,108.12 358.80,108.40 C359.47,108.68 360.13,108.87 361.00,109.00 C361.87,109.13 360.33,109.17 364.00,109.20 C367.67,109.23 379.42,109.33 383.00,109.20 C386.58,109.07 384.75,108.85 385.50,108.40 C386.25,107.95 386.88,106.93 387.50,106.50 C388.12,106.07 388.62,105.80 389.20,105.80 C389.78,105.80 390.37,106.07 391.00,106.50 C391.63,106.93 392.33,107.95 393.00,108.40 C393.67,108.85 394.67,109.07 395.00,109.20 L507.6,109.24" fill="none" stroke="#505050" stroke-width="1.15" stroke-linejoin="round"/>
<text x="279.60" y="111.44" font-size="7.24" fill="#3a3a3a" stroke="#3a3a3a" stroke-width="0.08" textLength="21.93" lengthAdjust="spacingAndGlyphs">CCRCC</text>
<path d="M304.6,123.60 L326.50,123.60 C326.88,123.42 328.08,123.52 328.75,122.50 C329.42,121.48 329.98,119.42 330.50,117.50 C331.02,115.58 331.48,112.83 331.90,111.00 C332.32,109.17 332.62,107.82 333.00,106.50 C333.38,105.18 333.70,104.13 334.20,103.10 C334.70,102.07 335.35,100.97 336.00,100.30 C336.65,99.63 337.43,99.13 338.10,99.10 C338.77,99.07 339.48,99.57 340.00,100.10 C340.52,100.63 340.78,101.32 341.25,102.30 C341.72,103.28 342.28,104.72 342.80,106.00 C343.32,107.28 343.87,108.78 344.40,110.00 C344.93,111.22 345.48,112.38 346.00,113.30 C346.52,114.22 346.90,114.77 347.50,115.50 C348.10,116.23 348.82,117.05 349.60,117.70 C350.38,118.35 351.30,118.90 352.20,119.40 C353.10,119.90 353.97,120.30 355.00,120.70 C356.03,121.10 357.30,121.45 358.40,121.80 C359.50,122.15 360.33,122.55 361.60,122.80 C362.87,123.05 364.27,123.17 366.00,123.30 C367.73,123.43 364.67,123.55 372.00,123.60 C379.33,123.65 403.00,123.68 410.00,123.60 C417.00,123.52 412.33,123.15 414.00,123.10 C415.67,123.05 418.00,123.32 420.00,123.30 C422.00,123.28 424.00,122.97 426.00,123.00 C428.00,123.03 429.67,123.40 432.00,123.50 C434.33,123.60 438.67,123.58 440.00,123.60 L507.6,123.60 Z" fill="#e377c2" fill-opacity="0.52" stroke="none"/>
<path d="M304.6,123.60 L326.50,123.60 C326.88,123.42 328.08,123.52 328.75,122.50 C329.42,121.48 329.98,119.42 330.50,117.50 C331.02,115.58 331.48,112.83 331.90,111.00 C332.32,109.17 332.62,107.82 333.00,106.50 C333.38,105.18 333.70,104.13 334.20,103.10 C334.70,102.07 335.35,100.97 336.00,100.30 C336.65,99.63 337.43,99.13 338.10,99.10 C338.77,99.07 339.48,99.57 340.00,100.10 C340.52,100.63 340.78,101.32 341.25,102.30 C341.72,103.28 342.28,104.72 342.80,106.00 C343.32,107.28 343.87,108.78 344.40,110.00 C344.93,111.22 345.48,112.38 346.00,113.30 C346.52,114.22 346.90,114.77 347.50,115.50 C348.10,116.23 348.82,117.05 349.60,117.70 C350.38,118.35 351.30,118.90 352.20,119.40 C353.10,119.90 353.97,120.30 355.00,120.70 C356.03,121.10 357.30,121.45 358.40,121.80 C359.50,122.15 360.33,122.55 361.60,122.80 C362.87,123.05 364.27,123.17 366.00,123.30 C367.73,123.43 364.67,123.55 372.00,123.60 C379.33,123.65 403.00,123.68 410.00,123.60 C417.00,123.52 412.33,123.15 414.00,123.10 C415.67,123.05 418.00,123.32 420.00,123.30 C422.00,123.28 424.00,122.97 426.00,123.00 C428.00,123.03 429.67,123.40 432.00,123.50 C434.33,123.60 438.67,123.58 440.00,123.60 L507.6,123.60" fill="none" stroke="#505050" stroke-width="1.15" stroke-linejoin="round"/>
<text x="287.47" y="125.80" font-size="7.24" fill="#3a3a3a" stroke="#3a3a3a" stroke-width="0.08" textLength="14.08" lengthAdjust="spacingAndGlyphs">HCC</text>
<path d="M304.6,137.96 L316.50,138.00 C316.98,137.93 318.40,137.92 319.40,137.60 C320.40,137.28 321.47,136.73 322.50,136.10 C323.53,135.47 324.57,134.68 325.60,133.80 C326.63,132.92 327.65,131.82 328.70,130.80 C329.75,129.78 330.97,128.60 331.90,127.70 C332.83,126.80 333.52,126.05 334.30,125.40 C335.08,124.75 335.82,124.25 336.60,123.80 C337.38,123.35 338.23,122.97 339.00,122.70 C339.77,122.43 340.48,122.22 341.25,122.20 C342.02,122.18 342.81,122.33 343.60,122.60 C344.39,122.87 345.22,123.35 346.00,123.80 C346.78,124.25 347.53,124.78 348.30,125.30 C349.07,125.82 349.68,126.17 350.60,126.90 C351.52,127.63 352.75,128.78 353.80,129.70 C354.85,130.62 355.87,131.60 356.90,132.40 C357.93,133.20 358.97,133.88 360.00,134.50 C361.03,135.12 362.07,135.67 363.10,136.10 C364.13,136.53 365.15,136.83 366.20,137.10 C367.25,137.37 368.27,137.55 369.40,137.70 C370.53,137.85 372.40,137.95 373.00,138.00 L507.6,137.96 Z" fill="#2ca02c" fill-opacity="0.52" stroke="none"/>
<path d="M304.6,137.96 L316.50,138.00 C316.98,137.93 318.40,137.92 319.40,137.60 C320.40,137.28 321.47,136.73 322.50,136.10 C323.53,135.47 324.57,134.68 325.60,133.80 C326.63,132.92 327.65,131.82 328.70,130.80 C329.75,129.78 330.97,128.60 331.90,127.70 C332.83,126.80 333.52,126.05 334.30,125.40 C335.08,124.75 335.82,124.25 336.60,123.80 C337.38,123.35 338.23,122.97 339.00,122.70 C339.77,122.43 340.48,122.22 341.25,122.20 C342.02,122.18 342.81,122.33 343.60,122.60 C344.39,122.87 345.22,123.35 346.00,123.80 C346.78,124.25 347.53,124.78 348.30,125.30 C349.07,125.82 349.68,126.17 350.60,126.90 C351.52,127.63 352.75,128.78 353.80,129.70 C354.85,130.62 355.87,131.60 356.90,132.40 C357.93,133.20 358.97,133.88 360.00,134.50 C361.03,135.12 362.07,135.67 363.10,136.10 C364.13,136.53 365.15,136.83 366.20,137.10 C367.25,137.37 368.27,137.55 369.40,137.70 C370.53,137.85 372.40,137.95 373.00,138.00 L507.6,137.96" fill="none" stroke="#505050" stroke-width="1.15" stroke-linejoin="round"/>
<text x="284.37" y="140.16" font-size="7.24" fill="#3a3a3a" stroke="#3a3a3a" stroke-width="0.08" textLength="17.17" lengthAdjust="spacingAndGlyphs">LSCC</text>
<path d="M304.6,152.32 L318.00,152.30 C318.50,152.22 320.12,152.07 321.00,151.80 C321.88,151.53 322.53,151.15 323.30,150.70 C324.07,150.25 324.70,149.92 325.60,149.10 C326.50,148.28 327.65,146.95 328.70,145.80 C329.75,144.65 330.78,143.33 331.90,142.20 C333.02,141.07 334.38,139.92 335.40,139.00 C336.42,138.08 337.37,137.13 338.00,136.70 C338.63,136.27 338.73,136.37 339.20,136.40 C339.67,136.43 340.20,136.62 340.80,136.90 C341.40,137.18 342.10,137.62 342.80,138.10 C343.50,138.58 344.22,139.25 345.00,139.80 C345.78,140.35 346.57,140.80 347.50,141.40 C348.43,142.00 349.56,142.75 350.60,143.40 C351.64,144.05 352.68,144.68 353.75,145.30 C354.82,145.92 355.96,146.57 357.00,147.10 C358.04,147.63 358.98,148.05 360.00,148.50 C361.02,148.95 362.06,149.42 363.10,149.80 C364.14,150.18 365.20,150.52 366.25,150.80 C367.30,151.08 368.36,151.32 369.40,151.50 C370.44,151.68 371.40,151.77 372.50,151.90 C373.60,152.03 375.42,152.23 376.00,152.30 L507.6,152.32 Z" fill="#bcbd22" fill-opacity="0.52" stroke="none"/>
<path d="M304.6,152.32 L318.00,152.30 C318.50,152.22 320.12,152.07 321.00,151.80 C321.88,151.53 322.53,151.15 323.30,150.70 C324.07,150.25 324.70,149.92 325.60,149.10 C326.50,148.28 327.65,146.95 328.70,145.80 C329.75,144.65 330.78,143.33 331.90,142.20 C333.02,141.07 334.38,139.92 335.40,139.00 C336.42,138.08 337.37,137.13 338.00,136.70 C338.63,136.27 338.73,136.37 339.20,136.40 C339.67,136.43 340.20,136.62 340.80,136.90 C341.40,137.18 342.10,137.62 342.80,138.10 C343.50,138.58 344.22,139.25 345.00,139.80 C345.78,140.35 346.57,140.80 347.50,141.40 C348.43,142.00 349.56,142.75 350.60,143.40 C351.64,144.05 352.68,144.68 353.75,145.30 C354.82,145.92 355.96,146.57 357.00,147.10 C358.04,147.63 358.98,148.05 360.00,148.50 C361.02,148.95 362.06,149.42 363.10,149.80 C364.14,150.18 365.20,150.52 366.25,150.80 C367.30,151.08 368.36,151.32 369.40,151.50 C370.44,151.68 371.40,151.77 372.50,151.90 C373.60,152.03 375.42,152.23 376.00,152.30 L507.6,152.32" fill="none" stroke="#505050" stroke-width="1.15" stroke-linejoin="round"/>
<text x="283.44" y="154.52" font-size="7.24" fill="#3a3a3a" stroke="#3a3a3a" stroke-width="0.08" textLength="18.18" lengthAdjust="spacingAndGlyphs">LUAD</text>
<path d="M304.6,166.68 L319.50,166.70 C320.00,166.60 321.58,166.57 322.50,166.10 C323.42,165.63 324.22,164.62 325.00,163.90 C325.78,163.18 326.43,162.55 327.20,161.75 C327.97,160.95 328.82,159.88 329.60,159.10 C330.38,158.32 331.17,157.67 331.90,157.10 C332.63,156.53 333.35,156.10 334.00,155.70 C334.65,155.30 335.13,155.27 335.80,154.70 C336.47,154.13 337.35,153.07 338.00,152.30 C338.65,151.53 339.08,150.85 339.70,150.10 C340.32,149.35 341.05,148.33 341.70,147.80 C342.35,147.27 343.02,146.88 343.60,146.90 C344.18,146.92 344.68,147.38 345.20,147.90 C345.72,148.42 346.13,149.10 346.70,150.00 C347.27,150.90 347.95,152.12 348.60,153.30 C349.25,154.48 349.87,155.93 350.60,157.10 C351.33,158.27 352.22,159.40 353.00,160.30 C353.78,161.20 354.53,161.92 355.30,162.50 C356.07,163.08 356.82,163.47 357.60,163.80 C358.38,164.13 359.10,164.27 360.00,164.50 C360.90,164.73 361.96,165.02 363.00,165.20 C364.04,165.38 365.42,165.57 366.25,165.60 C367.08,165.63 367.38,165.32 368.00,165.40 C368.62,165.48 369.00,165.88 370.00,166.10 C371.00,166.32 366.67,166.60 374.00,166.70 C381.33,166.80 406.75,166.78 414.00,166.70 C421.25,166.62 416.42,166.35 417.50,166.20 C418.58,166.05 419.50,165.80 420.50,165.80 C421.50,165.80 422.42,166.05 423.50,166.20 C424.58,166.35 426.42,166.62 427.00,166.70 L507.6,166.68 Z" fill="#17becf" fill-opacity="0.52" stroke="none"/>
<path d="M304.6,166.68 L319.50,166.70 C320.00,166.60 321.58,166.57 322.50,166.10 C323.42,165.63 324.22,164.62 325.00,163.90 C325.78,163.18 326.43,162.55 327.20,161.75 C327.97,160.95 328.82,159.88 329.60,159.10 C330.38,158.32 331.17,157.67 331.90,157.10 C332.63,156.53 333.35,156.10 334.00,155.70 C334.65,155.30 335.13,155.27 335.80,154.70 C336.47,154.13 337.35,153.07 338.00,152.30 C338.65,151.53 339.08,150.85 339.70,150.10 C340.32,149.35 341.05,148.33 341.70,147.80 C342.35,147.27 343.02,146.88 343.60,146.90 C344.18,146.92 344.68,147.38 345.20,147.90 C345.72,148.42 346.13,149.10 346.70,150.00 C347.27,150.90 347.95,152.12 348.60,153.30 C349.25,154.48 349.87,155.93 350.60,157.10 C351.33,158.27 352.22,159.40 353.00,160.30 C353.78,161.20 354.53,161.92 355.30,162.50 C356.07,163.08 356.82,163.47 357.60,163.80 C358.38,164.13 359.10,164.27 360.00,164.50 C360.90,164.73 361.96,165.02 363.00,165.20 C364.04,165.38 365.42,165.57 366.25,165.60 C367.08,165.63 367.38,165.32 368.00,165.40 C368.62,165.48 369.00,165.88 370.00,166.10 C371.00,166.32 366.67,166.60 374.00,166.70 C381.33,166.80 406.75,166.78 414.00,166.70 C421.25,166.62 416.42,166.35 417.50,166.20 C418.58,166.05 419.50,165.80 420.50,165.80 C421.50,165.80 422.42,166.05 423.50,166.20 C424.58,166.35 426.42,166.62 427.00,166.70 L507.6,166.68" fill="none" stroke="#505050" stroke-width="1.15" stroke-linejoin="round"/>
<text x="291.69" y="168.88" font-size="7.24" fill="#3a3a3a" stroke="#3a3a3a" stroke-width="0.08" textLength="9.64" lengthAdjust="spacingAndGlyphs">OV</text>
<path d="M304.6,181.04 L322.50,181.00 C323.02,180.95 324.77,180.95 325.60,180.70 C326.43,180.45 326.98,179.88 327.50,179.50 C328.02,179.12 328.28,179.15 328.75,178.40 C329.22,177.65 329.78,176.23 330.30,175.00 C330.82,173.77 331.42,172.17 331.90,171.00 C332.38,169.83 332.77,168.72 333.20,168.00 C333.63,167.28 334.03,166.95 334.50,166.70 C334.97,166.45 335.53,166.60 336.00,166.50 C336.47,166.40 336.83,166.60 337.30,166.10 C337.77,165.60 338.27,164.67 338.80,163.50 C339.33,162.33 340.05,160.13 340.50,159.10 C340.95,158.07 341.20,157.69 341.50,157.30 C341.80,156.91 342.02,156.63 342.30,156.75 C342.58,156.87 342.85,157.22 343.20,158.00 C343.55,158.78 343.97,160.07 344.40,161.40 C344.83,162.73 345.28,164.43 345.80,166.00 C346.32,167.57 346.97,169.50 347.50,170.80 C348.03,172.10 348.48,173.05 349.00,173.80 C349.52,174.55 349.93,174.97 350.60,175.30 C351.27,175.63 352.22,175.67 353.00,175.80 C353.78,175.93 354.53,175.87 355.30,176.10 C356.07,176.33 356.82,176.78 357.60,177.20 C358.38,177.62 359.27,178.08 360.00,178.60 C360.73,179.12 361.33,179.90 362.00,180.30 C362.67,180.70 359.33,180.88 364.00,181.00 C368.67,181.12 385.17,181.15 390.00,181.00 C394.83,180.85 392.00,180.47 393.00,180.10 C394.00,179.73 395.00,178.80 396.00,178.80 C397.00,178.80 398.00,179.73 399.00,180.10 C400.00,180.47 401.50,180.85 402.00,181.00 L507.6,181.04 Z" fill="#7f7f7f" fill-opacity="0.52" stroke="none"/>
<path d="M304.6,181.04 L322.50,181.00 C323.02,180.95 324.77,180.95 325.60,180.70 C326.43,180.45 326.98,179.88 327.50,179.50 C328.02,179.12 328.28,179.15 328.75,178.40 C329.22,177.65 329.78,176.23 330.30,175.00 C330.82,173.77 331.42,172.17 331.90,171.00 C332.38,169.83 332.77,168.72 333.20,168.00 C333.63,167.28 334.03,166.95 334.50,166.70 C334.97,166.45 335.53,166.60 336.00,166.50 C336.47,166.40 336.83,166.60 337.30,166.10 C337.77,165.60 338.27,164.67 338.80,163.50 C339.33,162.33 340.05,160.13 340.50,159.10 C340.95,158.07 341.20,157.69 341.50,157.30 C341.80,156.91 342.02,156.63 342.30,156.75 C342.58,156.87 342.85,157.22 343.20,158.00 C343.55,158.78 343.97,160.07 344.40,161.40 C344.83,162.73 345.28,164.43 345.80,166.00 C346.32,167.57 346.97,169.50 347.50,170.80 C348.03,172.10 348.48,173.05 349.00,173.80 C349.52,174.55 349.93,174.97 350.60,175.30 C351.27,175.63 352.22,175.67 353.00,175.80 C353.78,175.93 354.53,175.87 355.30,176.10 C356.07,176.33 356.82,176.78 357.60,177.20 C358.38,177.62 359.27,178.08 360.00,178.60 C360.73,179.12 361.33,179.90 362.00,180.30 C362.67,180.70 359.33,180.88 364.00,181.00 C368.67,181.12 385.17,181.15 390.00,181.00 C394.83,180.85 392.00,180.47 393.00,180.10 C394.00,179.73 395.00,178.80 396.00,178.80 C397.00,178.80 398.00,179.73 399.00,180.10 C400.00,180.47 401.50,180.85 402.00,181.00 L507.6,181.04" fill="none" stroke="#505050" stroke-width="1.15" stroke-linejoin="round"/>
<text x="283.78" y="183.24" font-size="7.24" fill="#3a3a3a" stroke="#3a3a3a" stroke-width="0.08" textLength="17.76" lengthAdjust="spacingAndGlyphs">PDAC</text>
<path d="M304.6,195.40 L321.00,195.40 C321.50,195.30 323.23,195.23 324.00,194.80 C324.77,194.37 325.07,193.60 325.60,192.80 C326.13,192.00 326.67,190.88 327.20,190.00 C327.73,189.12 328.28,188.27 328.80,187.50 C329.32,186.73 329.68,185.97 330.30,185.40 C330.92,184.83 331.72,184.50 332.50,184.10 C333.28,183.70 334.30,183.33 335.00,183.00 C335.70,182.67 336.18,182.48 336.70,182.10 C337.22,181.72 337.58,181.13 338.10,180.70 C338.62,180.27 339.28,179.77 339.80,179.50 C340.32,179.23 340.77,178.95 341.25,179.10 C341.73,179.25 342.18,179.77 342.70,180.40 C343.22,181.03 343.85,182.28 344.40,182.90 C344.95,183.52 345.48,183.83 346.00,184.10 C346.52,184.37 347.00,184.40 347.50,184.50 C348.00,184.60 348.48,184.55 349.00,184.70 C349.52,184.85 350.07,184.97 350.60,185.40 C351.13,185.83 351.68,186.67 352.20,187.30 C352.72,187.93 353.23,188.63 353.75,189.20 C354.27,189.77 354.78,190.30 355.30,190.70 C355.82,191.10 356.12,191.28 356.90,191.60 C357.68,191.92 358.97,192.33 360.00,192.60 C361.03,192.87 362.10,193.03 363.10,193.20 C364.10,193.37 364.95,193.48 366.00,193.60 C367.05,193.72 368.32,193.75 369.40,193.90 C370.48,194.05 371.47,194.30 372.50,194.50 C373.53,194.70 374.68,195.00 375.60,195.10 C376.52,195.20 377.22,195.17 378.00,195.10 C378.78,195.03 379.47,194.68 380.30,194.70 C381.13,194.72 382.05,195.08 383.00,195.20 C383.95,195.32 384.50,195.47 386.00,195.40 C387.50,195.33 390.33,194.95 392.00,194.80 C393.67,194.65 394.67,194.45 396.00,194.50 C397.33,194.55 398.67,194.95 400.00,195.10 C401.33,195.25 403.33,195.35 404.00,195.40 L507.6,195.40 Z" fill="#d3e2f2" fill-opacity="0.52" stroke="none"/>
<path d="M304.6,195.40 L321.00,195.40 C321.50,195.30 323.23,195.23 324.00,194.80 C324.77,194.37 325.07,193.60 325.60,192.80 C326.13,192.00 326.67,190.88 327.20,190.00 C327.73,189.12 328.28,188.27 328.80,187.50 C329.32,186.73 329.68,185.97 330.30,185.40 C330.92,184.83 331.72,184.50 332.50,184.10 C333.28,183.70 334.30,183.33 335.00,183.00 C335.70,182.67 336.18,182.48 336.70,182.10 C337.22,181.72 337.58,181.13 338.10,180.70 C338.62,180.27 339.28,179.77 339.80,179.50 C340.32,179.23 340.77,178.95 341.25,179.10 C341.73,179.25 342.18,179.77 342.70,180.40 C343.22,181.03 343.85,182.28 344.40,182.90 C344.95,183.52 345.48,183.83 346.00,184.10 C346.52,184.37 347.00,184.40 347.50,184.50 C348.00,184.60 348.48,184.55 349.00,184.70 C349.52,184.85 350.07,184.97 350.60,185.40 C351.13,185.83 351.68,186.67 352.20,187.30 C352.72,187.93 353.23,188.63 353.75,189.20 C354.27,189.77 354.78,190.30 355.30,190.70 C355.82,191.10 356.12,191.28 356.90,191.60 C357.68,191.92 358.97,192.33 360.00,192.60 C361.03,192.87 362.10,193.03 363.10,193.20 C364.10,193.37 364.95,193.48 366.00,193.60 C367.05,193.72 368.32,193.75 369.40,193.90 C370.48,194.05 371.47,194.30 372.50,194.50 C373.53,194.70 374.68,195.00 375.60,195.10 C376.52,195.20 377.22,195.17 378.00,195.10 C378.78,195.03 379.47,194.68 380.30,194.70 C381.13,194.72 382.05,195.08 383.00,195.20 C383.95,195.32 384.50,195.47 386.00,195.40 C387.50,195.33 390.33,194.95 392.00,194.80 C393.67,194.65 394.67,194.45 396.00,194.50 C397.33,194.55 398.67,194.95 400.00,195.10 C401.33,195.25 403.33,195.35 404.00,195.40 L507.6,195.40" fill="none" stroke="#505050" stroke-width="1.15" stroke-linejoin="round"/>
<text x="283.26" y="197.60" font-size="7.24" fill="#3a3a3a" stroke="#3a3a3a" stroke-width="0.08" textLength="18.35" lengthAdjust="spacingAndGlyphs">PRAD</text>
<path d="M304.6,209.76 L313.00,209.80 C313.70,209.75 315.98,209.65 317.20,209.50 C318.42,209.35 319.27,209.15 320.30,208.90 C321.33,208.65 322.37,208.43 323.40,208.00 C324.43,207.57 325.45,206.93 326.50,206.30 C327.55,205.67 328.65,204.93 329.70,204.20 C330.75,203.47 331.77,202.68 332.80,201.90 C333.83,201.12 334.87,200.27 335.90,199.50 C336.93,198.73 337.95,197.87 339.00,197.30 C340.05,196.73 341.15,196.18 342.20,196.10 C343.25,196.02 344.27,196.38 345.30,196.80 C346.33,197.22 347.23,197.88 348.40,198.60 C349.57,199.32 350.99,200.28 352.30,201.10 C353.61,201.92 354.95,202.75 356.25,203.50 C357.55,204.25 358.81,204.97 360.10,205.60 C361.39,206.23 362.68,206.85 364.00,207.30 C365.32,207.75 366.68,208.03 368.00,208.30 C369.32,208.57 370.47,208.72 371.90,208.90 C373.33,209.08 375.25,209.25 376.60,209.40 C377.95,209.55 379.43,209.73 380.00,209.80 L507.6,209.76 Z" fill="#f2c800" fill-opacity="0.52" stroke="none"/>
<path d="M304.6,209.76 L313.00,209.80 C313.70,209.75 315.98,209.65 317.20,209.50 C318.42,209.35 319.27,209.15 320.30,208.90 C321.33,208.65 322.37,208.43 323.40,208.00 C324.43,207.57 325.45,206.93 326.50,206.30 C327.55,205.67 328.65,204.93 329.70,204.20 C330.75,203.47 331.77,202.68 332.80,201.90 C333.83,201.12 334.87,200.27 335.90,199.50 C336.93,198.73 337.95,197.87 339.00,197.30 C340.05,196.73 341.15,196.18 342.20,196.10 C343.25,196.02 344.27,196.38 345.30,196.80 C346.33,197.22 347.23,197.88 348.40,198.60 C349.57,199.32 350.99,200.28 352.30,201.10 C353.61,201.92 354.95,202.75 356.25,203.50 C357.55,204.25 358.81,204.97 360.10,205.60 C361.39,206.23 362.68,206.85 364.00,207.30 C365.32,207.75 366.68,208.03 368.00,208.30 C369.32,208.57 370.47,208.72 371.90,208.90 C373.33,209.08 375.25,209.25 376.60,209.40 C377.95,209.55 379.43,209.73 380.00,209.80 L507.6,209.76" fill="none" stroke="#505050" stroke-width="1.15" stroke-linejoin="round"/>
<text x="292.46" y="211.96" font-size="7.24" fill="#3a3a3a" stroke="#3a3a3a" stroke-width="0.08" textLength="9.08" lengthAdjust="spacingAndGlyphs">EC</text>
<circle cx="369.7" cy="49.7" r="1.65" fill="#5cba94" fill-opacity="0.85" stroke="#2f7a5c" stroke-width="0.5" stroke-opacity="0.85"/>
<circle cx="373.3" cy="52.0" r="1.65" fill="#e2ae48" fill-opacity="0.5" stroke="#9a7a3a" stroke-width="0.5" stroke-opacity="0.85"/>
<circle cx="382.3" cy="44.5" r="1.65" fill="#cc8a76" fill-opacity="0.85" stroke="#8a4e3e" stroke-width="0.5" stroke-opacity="0.85"/>
<circle cx="392.5" cy="47.3" r="1.65" fill="#6c9eb4" fill-opacity="0.85" stroke="#345c70" stroke-width="0.5" stroke-opacity="0.85"/>
<text x="375.59" y="41.35" font-size="6.32" fill="#e27a58" stroke="#e27a58" stroke-width="0.04" textLength="12.68" lengthAdjust="spacingAndGlyphs">IDH1</text>
<circle cx="363.1" cy="64.9" r="1.65" fill="#5cba94" fill-opacity="0.85" stroke="#2f7a5c" stroke-width="0.5" stroke-opacity="0.85"/>
<circle cx="372.5" cy="66.3" r="1.65" fill="#e2ae48" fill-opacity="0.5" stroke="#9a7a3a" stroke-width="0.5" stroke-opacity="0.85"/>
<circle cx="380.3" cy="66.3" r="1.65" fill="#e2ae48" fill-opacity="0.5" stroke="#9a7a3a" stroke-width="0.5" stroke-opacity="0.85"/>
<circle cx="445.0" cy="58.9" r="1.65" fill="#cc8a76" fill-opacity="0.85" stroke="#8a4e3e" stroke-width="0.5" stroke-opacity="0.85"/>
<text x="447.37" y="61.15" font-size="6.93" fill="#e27a58" stroke="#e27a58" stroke-width="0.04" textLength="13.67" lengthAdjust="spacingAndGlyphs">TP53</text>
<circle cx="381.6" cy="75.8" r="1.5" fill="#1d5068" fill-opacity="0.92" stroke="#0e2835" stroke-width="0.5" stroke-opacity="0.85"/>
<circle cx="383.1" cy="75.8" r="1.5" fill="#1d5068" fill-opacity="0.92" stroke="#0e2835" stroke-width="0.5" stroke-opacity="0.85"/>
<circle cx="384.6" cy="75.8" r="1.5" fill="#1d5068" fill-opacity="0.92" stroke="#0e2835" stroke-width="0.5" stroke-opacity="0.85"/>
<circle cx="386.1" cy="75.8" r="1.5" fill="#1d5068" fill-opacity="0.92" stroke="#0e2835" stroke-width="0.5" stroke-opacity="0.85"/>
<circle cx="387.6" cy="75.8" r="1.5" fill="#1d5068" fill-opacity="0.92" stroke="#0e2835" stroke-width="0.5" stroke-opacity="0.85"/>
<circle cx="389.1" cy="75.8" r="1.5" fill="#1d5068" fill-opacity="0.92" stroke="#0e2835" stroke-width="0.5" stroke-opacity="0.85"/>
<circle cx="390.6" cy="75.8" r="1.5" fill="#1d5068" fill-opacity="0.92" stroke="#0e2835" stroke-width="0.5" stroke-opacity="0.85"/>
<circle cx="392.1" cy="75.8" r="1.5" fill="#1d5068" fill-opacity="0.92" stroke="#0e2835" stroke-width="0.5" stroke-opacity="0.85"/>
<circle cx="393.6" cy="75.8" r="1.5" fill="#1d5068" fill-opacity="0.92" stroke="#0e2835" stroke-width="0.5" stroke-opacity="0.85"/>
<circle cx="395.1" cy="75.8" r="1.5" fill="#1d5068" fill-opacity="0.92" stroke="#0e2835" stroke-width="0.5" stroke-opacity="0.85"/>
<circle cx="396.6" cy="75.8" r="1.5" fill="#1d5068" fill-opacity="0.92" stroke="#0e2835" stroke-width="0.5" stroke-opacity="0.85"/>
<circle cx="398.1" cy="75.8" r="1.5" fill="#1d5068" fill-opacity="0.92" stroke="#0e2835" stroke-width="0.5" stroke-opacity="0.85"/>
<circle cx="399.6" cy="75.8" r="1.5" fill="#1d5068" fill-opacity="0.92" stroke="#0e2835" stroke-width="0.5" stroke-opacity="0.85"/>
<circle cx="401.1" cy="75.8" r="1.5" fill="#1d5068" fill-opacity="0.92" stroke="#0e2835" stroke-width="0.5" stroke-opacity="0.85"/>
<circle cx="402.6" cy="75.8" r="1.5" fill="#1d5068" fill-opacity="0.92" stroke="#0e2835" stroke-width="0.5" stroke-opacity="0.85"/>
<circle cx="404.1" cy="75.8" r="1.5" fill="#1d5068" fill-opacity="0.92" stroke="#0e2835" stroke-width="0.5" stroke-opacity="0.85"/>
<circle cx="405.6" cy="75.8" r="1.5" fill="#1d5068" fill-opacity="0.92" stroke="#0e2835" stroke-width="0.5" stroke-opacity="0.85"/>
<circle cx="407.0" cy="75.8" r="1.5" fill="#1d5068" fill-opacity="0.92" stroke="#0e2835" stroke-width="0.5" stroke-opacity="0.85"/>
<circle cx="410" cy="75.8" r="1.65" fill="#6c9eb4" fill-opacity="0.85" stroke="#345c70" stroke-width="0.5" stroke-opacity="0.85"/>
<circle cx="413" cy="75.8" r="1.65" fill="#6c9eb4" fill-opacity="0.85" stroke="#345c70" stroke-width="0.5" stroke-opacity="0.85"/>
<circle cx="416" cy="75.8" r="1.65" fill="#6c9eb4" fill-opacity="0.85" stroke="#345c70" stroke-width="0.5" stroke-opacity="0.85"/>
<circle cx="422.5" cy="75.8" r="1.65" fill="#6c9eb4" fill-opacity="0.85" stroke="#345c70" stroke-width="0.5" stroke-opacity="0.85"/>
<circle cx="429.5" cy="75.8" r="1.65" fill="#6c9eb4" fill-opacity="0.85" stroke="#345c70" stroke-width="0.5" stroke-opacity="0.85"/>
<circle cx="438" cy="75.8" r="1.65" fill="#6c9eb4" fill-opacity="0.85" stroke="#345c70" stroke-width="0.5" stroke-opacity="0.85"/>
<circle cx="454.4" cy="75.8" r="1.65" fill="#6c9eb4" fill-opacity="0.85" stroke="#345c70" stroke-width="0.5" stroke-opacity="0.85"/>
<circle cx="373" cy="80.6" r="1.5" fill="#c9a040" fill-opacity="0.95" stroke="#2a2418" stroke-width="0.5" stroke-opacity="0.85"/>
<circle cx="375" cy="80.6" r="1.5" fill="#c9a040" fill-opacity="0.95" stroke="#2a2418" stroke-width="0.5" stroke-opacity="0.85"/>
<circle cx="377" cy="80.6" r="1.5" fill="#c9a040" fill-opacity="0.95" stroke="#2a2418" stroke-width="0.5" stroke-opacity="0.85"/>
<circle cx="379" cy="80.6" r="1.5" fill="#c9a040" fill-opacity="0.95" stroke="#2a2418" stroke-width="0.5" stroke-opacity="0.85"/>
<circle cx="381" cy="80.6" r="1.5" fill="#c9a040" fill-opacity="0.95" stroke="#2a2418" stroke-width="0.5" stroke-opacity="0.85"/>
<rect x="375" y="79.9" width="5" height="1.4" fill="#1a1a14" opacity="0.8"/>
<circle cx="384.2" cy="72.7" r="1.65" fill="#cc8a76" fill-opacity="0.85" stroke="#8a4e3e" stroke-width="0.5" stroke-opacity="0.85"/>
<circle cx="410.3" cy="72.7" r="1.65" fill="#cc8a76" fill-opacity="0.85" stroke="#8a4e3e" stroke-width="0.5" stroke-opacity="0.85"/>
<circle cx="418.6" cy="73.1" r="1.65" fill="#cc8a76" fill-opacity="0.85" stroke="#8a4e3e" stroke-width="0.5" stroke-opacity="0.85"/>
<text x="370.53" y="73.55" font-size="6.93" fill="#e27a58" stroke="#e27a58" stroke-width="0.04" textLength="11.85" lengthAdjust="spacingAndGlyphs">B2M</text>
<text x="397.65" y="71.25" font-size="6.93" fill="#e27a58" stroke="#e27a58" stroke-width="0.04" textLength="21.23" lengthAdjust="spacingAndGlyphs">SETD1B</text>
<text x="419.49" y="73.85" font-size="6.93" fill="#e27a58" stroke="#e27a58" stroke-width="0.04" textLength="22.62" lengthAdjust="spacingAndGlyphs">ACVR2A</text>
<circle cx="382.7" cy="87.0" r="1.65" fill="#cc8a76" fill-opacity="0.85" stroke="#8a4e3e" stroke-width="0.5" stroke-opacity="0.85"/>
<text x="384.55" y="87.75" font-size="6.93" fill="#e27a58" stroke="#e27a58" stroke-width="0.04" textLength="17.61" lengthAdjust="spacingAndGlyphs">KEAP1</text>
<circle cx="379.5" cy="90.6" r="1.65" fill="#6c9eb4" fill-opacity="0.85" stroke="#345c70" stroke-width="0.5" stroke-opacity="0.85"/>
<circle cx="381.9" cy="90.6" r="1.65" fill="#6c9eb4" fill-opacity="0.85" stroke="#345c70" stroke-width="0.5" stroke-opacity="0.85"/>
<circle cx="392.3" cy="90.6" r="1.65" fill="#6c9eb4" fill-opacity="0.85" stroke="#345c70" stroke-width="0.5" stroke-opacity="0.85"/>
<circle cx="374.8" cy="93.7" r="1.65" fill="#5cba94" fill-opacity="0.85" stroke="#2f7a5c" stroke-width="0.5" stroke-opacity="0.85"/>
<circle cx="377.5" cy="95.0" r="1.65" fill="#e2ae48" fill-opacity="0.5" stroke="#9a7a3a" stroke-width="0.5" stroke-opacity="0.85"/>
<circle cx="463.1" cy="87.5" r="1.65" fill="#cc8a76" fill-opacity="0.85" stroke="#8a4e3e" stroke-width="0.5" stroke-opacity="0.85"/>
<text x="467.53" y="89.75" font-size="6.93" fill="#e27a58" stroke="#e27a58" stroke-width="0.04" textLength="18.01" lengthAdjust="spacingAndGlyphs">CASP8</text>
<circle cx="389.2" cy="101.9" r="1.65" fill="#cc8a76" fill-opacity="0.85" stroke="#8a4e3e" stroke-width="0.5" stroke-opacity="0.85"/>
<text x="392.04" y="102.25" font-size="6.93" fill="#e27a58" stroke="#e27a58" stroke-width="0.04" textLength="14.22" lengthAdjust="spacingAndGlyphs">BAP1</text>
<circle cx="392.0" cy="116.25" r="1.65" fill="#cc8a76" fill-opacity="0.85" stroke="#8a4e3e" stroke-width="0.5" stroke-opacity="0.85"/>
<circle cx="394.4" cy="116.25" r="1.65" fill="#cc8a76" fill-opacity="0.85" stroke="#8a4e3e" stroke-width="0.5" stroke-opacity="0.85"/>
<text x="395.39" y="114.35" font-size="6.93" fill="#e27a58" stroke="#e27a58" stroke-width="0.04" textLength="15.06" lengthAdjust="spacingAndGlyphs">AXIN1</text>
<circle cx="405.0" cy="119.4" r="1.65" fill="#6c9eb4" fill-opacity="0.85" stroke="#345c70" stroke-width="0.5" stroke-opacity="0.85"/>
<text x="410.98" y="119.35" font-size="6.93" fill="#e27a58" stroke="#e27a58" stroke-width="0.04" textLength="13.57" lengthAdjust="spacingAndGlyphs">TP53</text>
<circle cx="427.2" cy="116.25" r="1.65" fill="#cc8a76" fill-opacity="0.85" stroke="#8a4e3e" stroke-width="0.5" stroke-opacity="0.85"/>
<circle cx="429.5" cy="116.25" r="1.65" fill="#cc8a76" fill-opacity="0.85" stroke="#8a4e3e" stroke-width="0.5" stroke-opacity="0.85"/>
<circle cx="431.9" cy="116.25" r="1.65" fill="#cc8a76" fill-opacity="0.85" stroke="#8a4e3e" stroke-width="0.5" stroke-opacity="0.85"/>
<text x="425.98" y="114.35" font-size="6.93" fill="#e27a58" stroke="#e27a58" stroke-width="0.04" textLength="10.07" lengthAdjust="spacingAndGlyphs">RB1</text>
<text x="435.15" y="119.35" font-size="6.93" fill="#e27a58" stroke="#e27a58" stroke-width="0.04" textLength="20.40" lengthAdjust="spacingAndGlyphs">CTNNB1</text>
<circle cx="358" cy="123.6" r="1.4" fill="#e2ae48" fill-opacity="0.5" stroke="#9a7a3a" stroke-width="0.5" stroke-opacity="0.85"/>
<circle cx="360" cy="123.6" r="1.4" fill="#e2ae48" fill-opacity="0.5" stroke="#9a7a3a" stroke-width="0.5" stroke-opacity="0.85"/>
<circle cx="362" cy="123.6" r="1.4" fill="#e2ae48" fill-opacity="0.5" stroke="#9a7a3a" stroke-width="0.5" stroke-opacity="0.85"/>
<circle cx="364" cy="123.6" r="1.4" fill="#e2ae48" fill-opacity="0.5" stroke="#9a7a3a" stroke-width="0.5" stroke-opacity="0.85"/>
<circle cx="366" cy="123.6" r="1.4" fill="#e2ae48" fill-opacity="0.5" stroke="#9a7a3a" stroke-width="0.5" stroke-opacity="0.85"/>
<circle cx="368" cy="123.6" r="1.4" fill="#e2ae48" fill-opacity="0.5" stroke="#9a7a3a" stroke-width="0.5" stroke-opacity="0.85"/>
<circle cx="370" cy="123.6" r="1.4" fill="#e2ae48" fill-opacity="0.5" stroke="#9a7a3a" stroke-width="0.5" stroke-opacity="0.85"/>
<circle cx="372" cy="123.6" r="1.4" fill="#e2ae48" fill-opacity="0.5" stroke="#9a7a3a" stroke-width="0.5" stroke-opacity="0.85"/>
<circle cx="374" cy="123.6" r="1.4" fill="#e2ae48" fill-opacity="0.5" stroke="#9a7a3a" stroke-width="0.5" stroke-opacity="0.85"/>
<circle cx="376" cy="123.6" r="1.4" fill="#e2ae48" fill-opacity="0.5" stroke="#9a7a3a" stroke-width="0.5" stroke-opacity="0.85"/>
<circle cx="360" cy="123.8" r="1.5" fill="#9a7020" fill-opacity="0.9" stroke="#3a2a10" stroke-width="0.5" stroke-opacity="0.85"/>
<circle cx="380.6" cy="133.6" r="1.5" fill="#1d5068" fill-opacity="0.92" stroke="#0e2835" stroke-width="0.5" stroke-opacity="0.85"/>
<circle cx="382.1" cy="133.6" r="1.5" fill="#1d5068" fill-opacity="0.92" stroke="#0e2835" stroke-width="0.5" stroke-opacity="0.85"/>
<circle cx="383.6" cy="133.6" r="1.5" fill="#1d5068" fill-opacity="0.92" stroke="#0e2835" stroke-width="0.5" stroke-opacity="0.85"/>
<circle cx="385.1" cy="133.6" r="1.5" fill="#1d5068" fill-opacity="0.92" stroke="#0e2835" stroke-width="0.5" stroke-opacity="0.85"/>
<circle cx="386.6" cy="133.6" r="1.5" fill="#1d5068" fill-opacity="0.92" stroke="#0e2835" stroke-width="0.5" stroke-opacity="0.85"/>
<circle cx="392" cy="133.6" r="1.65" fill="#6c9eb4" fill-opacity="0.85" stroke="#345c70" stroke-width="0.5" stroke-opacity="0.85"/>
<circle cx="395.2" cy="133.6" r="1.65" fill="#6c9eb4" fill-opacity="0.85" stroke="#345c70" stroke-width="0.5" stroke-opacity="0.85"/>
<circle cx="398.3" cy="133.6" r="1.65" fill="#6c9eb4" fill-opacity="0.85" stroke="#345c70" stroke-width="0.5" stroke-opacity="0.85"/>
<circle cx="422.2" cy="133.6" r="1.65" fill="#6c9eb4" fill-opacity="0.85" stroke="#345c70" stroke-width="0.5" stroke-opacity="0.85"/>
<circle cx="449.0" cy="133.6" r="1.65" fill="#6c9eb4" fill-opacity="0.85" stroke="#345c70" stroke-width="0.5" stroke-opacity="0.85"/>
<circle cx="369.2" cy="138.1" r="1.5" fill="#e2ae48" fill-opacity="0.5" stroke="#9a7a3a" stroke-width="0.5" stroke-opacity="0.85"/>
<circle cx="371.3" cy="138.1" r="1.5" fill="#e2ae48" fill-opacity="0.5" stroke="#9a7a3a" stroke-width="0.5" stroke-opacity="0.85"/>
<circle cx="373.4" cy="138.1" r="1.5" fill="#e2ae48" fill-opacity="0.5" stroke="#9a7a3a" stroke-width="0.5" stroke-opacity="0.85"/>
<circle cx="375.5" cy="138.1" r="1.5" fill="#e2ae48" fill-opacity="0.5" stroke="#9a7a3a" stroke-width="0.5" stroke-opacity="0.85"/>
<circle cx="377.6" cy="138.1" r="1.5" fill="#e2ae48" fill-opacity="0.5" stroke="#9a7a3a" stroke-width="0.5" stroke-opacity="0.85"/>
<circle cx="379.7" cy="138.1" r="1.5" fill="#e2ae48" fill-opacity="0.5" stroke="#9a7a3a" stroke-width="0.5" stroke-opacity="0.85"/>
<circle cx="498.6" cy="130.3" r="1.65" fill="#cc8a76" fill-opacity="0.85" stroke="#8a4e3e" stroke-width="0.5" stroke-opacity="0.85"/>
<text x="491.48" y="128.85" font-size="6.93" fill="#e27a58" stroke="#e27a58" stroke-width="0.04" textLength="13.16" lengthAdjust="spacingAndGlyphs">TP53</text>
<circle cx="378" cy="148.0" r="1.65" fill="#6c9eb4" fill-opacity="0.85" stroke="#345c70" stroke-width="0.5" stroke-opacity="0.85"/>
<circle cx="380" cy="148.0" r="1.65" fill="#6c9eb4" fill-opacity="0.85" stroke="#345c70" stroke-width="0.5" stroke-opacity="0.85"/>
<circle cx="386.6" cy="148.0" r="1.65" fill="#6c9eb4" fill-opacity="0.85" stroke="#345c70" stroke-width="0.5" stroke-opacity="0.85"/>
<circle cx="388.9" cy="148.0" r="1.65" fill="#6c9eb4" fill-opacity="0.85" stroke="#345c70" stroke-width="0.5" stroke-opacity="0.85"/>
<circle cx="391.25" cy="148.0" r="1.65" fill="#6c9eb4" fill-opacity="0.85" stroke="#345c70" stroke-width="0.5" stroke-opacity="0.85"/>
<circle cx="399" cy="148.0" r="1.65" fill="#6c9eb4" fill-opacity="0.85" stroke="#345c70" stroke-width="0.5" stroke-opacity="0.85"/>
<circle cx="410.3" cy="148.0" r="1.65" fill="#6c9eb4" fill-opacity="0.85" stroke="#345c70" stroke-width="0.5" stroke-opacity="0.85"/>
<circle cx="432.7" cy="148.0" r="1.65" fill="#6c9eb4" fill-opacity="0.85" stroke="#345c70" stroke-width="0.5" stroke-opacity="0.85"/>
<circle cx="372.6" cy="152.7" r="1.65" fill="#e2ae48" fill-opacity="0.5" stroke="#9a7a3a" stroke-width="0.5" stroke-opacity="0.85"/>
<circle cx="375.2" cy="152.7" r="1.65" fill="#e2ae48" fill-opacity="0.5" stroke="#9a7a3a" stroke-width="0.5" stroke-opacity="0.85"/>
<circle cx="411.25" cy="144.8" r="1.65" fill="#cc8a76" fill-opacity="0.85" stroke="#8a4e3e" stroke-width="0.5" stroke-opacity="0.85"/>
<text x="396.59" y="144.75" font-size="6.93" fill="#e27a58" stroke="#e27a58" stroke-width="0.04" textLength="12.39" lengthAdjust="spacingAndGlyphs">TP53</text>
<circle cx="425.6" cy="145.2" r="1.65" fill="#cc8a76" fill-opacity="0.85" stroke="#8a4e3e" stroke-width="0.5" stroke-opacity="0.85"/>
<text x="417.37" y="142.65" font-size="6.93" fill="#e27a58" stroke="#e27a58" stroke-width="0.04" textLength="14.47" lengthAdjust="spacingAndGlyphs">EGFR</text>
<circle cx="434.2" cy="145.2" r="1.65" fill="#cc8a76" fill-opacity="0.85" stroke="#8a4e3e" stroke-width="0.5" stroke-opacity="0.85"/>
<text x="437.74" y="147.05" font-size="6.93" fill="#e27a58" stroke="#e27a58" stroke-width="0.04" textLength="17.13" lengthAdjust="spacingAndGlyphs">STK11</text>
<circle cx="407.3" cy="162.3" r="1.65" fill="#6c9eb4" fill-opacity="0.85" stroke="#345c70" stroke-width="0.5" stroke-opacity="0.85"/>
<circle cx="420.2" cy="159.2" r="1.65" fill="#cc8a76" fill-opacity="0.85" stroke="#8a4e3e" stroke-width="0.5" stroke-opacity="0.85"/>
<text x="422.67" y="161.45" font-size="6.93" fill="#e27a58" stroke="#e27a58" stroke-width="0.04" textLength="13.83" lengthAdjust="spacingAndGlyphs">TP53</text>
<circle cx="366.25" cy="166.9" r="1.65" fill="#e2ae48" fill-opacity="0.5" stroke="#9a7a3a" stroke-width="0.5" stroke-opacity="0.85"/>
<circle cx="368.6" cy="166.9" r="1.65" fill="#e2ae48" fill-opacity="0.5" stroke="#9a7a3a" stroke-width="0.5" stroke-opacity="0.85"/>
<circle cx="396.25" cy="173.6" r="1.65" fill="#cc8a76" fill-opacity="0.85" stroke="#8a4e3e" stroke-width="0.5" stroke-opacity="0.85"/>
<text x="398.27" y="175.85" font-size="6.93" fill="#e27a58" stroke="#e27a58" stroke-width="0.04" textLength="15.89" lengthAdjust="spacingAndGlyphs">KRAS</text>
<circle cx="357.2" cy="180.7" r="1.65" fill="#e2ae48" fill-opacity="0.5" stroke="#9a7a3a" stroke-width="0.5" stroke-opacity="0.85"/>
<circle cx="394.7" cy="188.1" r="1.65" fill="#cc8a76" fill-opacity="0.85" stroke="#8a4e3e" stroke-width="0.5" stroke-opacity="0.85"/>
<text x="397.03" y="190.35" font-size="6.93" fill="#e27a58" stroke="#e27a58" stroke-width="0.04" textLength="18.74" lengthAdjust="spacingAndGlyphs">FOXA1</text>
<circle cx="375.2" cy="195.2" r="1.7" fill="#e2ae48" fill-opacity="0.5" stroke="#9a7a3a" stroke-width="0.5" stroke-opacity="0.85"/>
<circle cx="377.3" cy="205.3" r="1.5" fill="#1d5068" fill-opacity="0.92" stroke="#0e2835" stroke-width="0.5" stroke-opacity="0.85"/>
<circle cx="378.8" cy="205.3" r="1.5" fill="#1d5068" fill-opacity="0.92" stroke="#0e2835" stroke-width="0.5" stroke-opacity="0.85"/>
<circle cx="380.3" cy="205.3" r="1.5" fill="#1d5068" fill-opacity="0.92" stroke="#0e2835" stroke-width="0.5" stroke-opacity="0.85"/>
<circle cx="381.8" cy="205.3" r="1.5" fill="#1d5068" fill-opacity="0.92" stroke="#0e2835" stroke-width="0.5" stroke-opacity="0.85"/>
<circle cx="383.3" cy="205.3" r="1.5" fill="#1d5068" fill-opacity="0.92" stroke="#0e2835" stroke-width="0.5" stroke-opacity="0.85"/>
<circle cx="384.8" cy="205.3" r="1.5" fill="#1d5068" fill-opacity="0.92" stroke="#0e2835" stroke-width="0.5" stroke-opacity="0.85"/>
<circle cx="386.3" cy="205.3" r="1.5" fill="#1d5068" fill-opacity="0.92" stroke="#0e2835" stroke-width="0.5" stroke-opacity="0.85"/>
<circle cx="387.8" cy="205.3" r="1.5" fill="#1d5068" fill-opacity="0.92" stroke="#0e2835" stroke-width="0.5" stroke-opacity="0.85"/>
<circle cx="389.3" cy="205.3" r="1.5" fill="#1d5068" fill-opacity="0.92" stroke="#0e2835" stroke-width="0.5" stroke-opacity="0.85"/>
<circle cx="390.6" cy="205.3" r="1.5" fill="#1d5068" fill-opacity="0.92" stroke="#0e2835" stroke-width="0.5" stroke-opacity="0.85"/>
<circle cx="393.6" cy="205.3" r="1.65" fill="#6c9eb4" fill-opacity="0.85" stroke="#345c70" stroke-width="0.5" stroke-opacity="0.85"/>
<circle cx="396.2" cy="205.3" r="1.65" fill="#6c9eb4" fill-opacity="0.85" stroke="#345c70" stroke-width="0.5" stroke-opacity="0.85"/>
<circle cx="400.3" cy="205.3" r="1.65" fill="#6c9eb4" fill-opacity="0.85" stroke="#345c70" stroke-width="0.5" stroke-opacity="0.85"/>
<circle cx="411.25" cy="205.3" r="1.65" fill="#6c9eb4" fill-opacity="0.85" stroke="#345c70" stroke-width="0.5" stroke-opacity="0.85"/>
<circle cx="417.0" cy="205.3" r="1.65" fill="#6c9eb4" fill-opacity="0.85" stroke="#345c70" stroke-width="0.5" stroke-opacity="0.85"/>
<circle cx="429.5" cy="205.3" r="1.65" fill="#6c9eb4" fill-opacity="0.85" stroke="#345c70" stroke-width="0.5" stroke-opacity="0.85"/>
<circle cx="376.9" cy="209.8" r="1.65" fill="#e2ae48" fill-opacity="0.5" stroke="#9a7a3a" stroke-width="0.5" stroke-opacity="0.85"/>
<circle cx="397.5" cy="202.2" r="1.65" fill="#cc8a76" fill-opacity="0.85" stroke="#8a4e3e" stroke-width="0.5" stroke-opacity="0.85"/>
<text x="399.67" y="201.65" font-size="6.93" fill="#e27a58" stroke="#e27a58" stroke-width="0.04" textLength="13.67" lengthAdjust="spacingAndGlyphs">TP53</text>
<circle cx="438.75" cy="202.5" r="1.65" fill="#cc8a76" fill-opacity="0.85" stroke="#8a4e3e" stroke-width="0.5" stroke-opacity="0.85"/>
<text x="441.64" y="204.75" font-size="6.93" fill="#e27a58" stroke="#e27a58" stroke-width="0.04" textLength="21.12" lengthAdjust="spacingAndGlyphs">CTNNB1</text>
<text x="343.31" y="224.20" font-size="7.40" fill="#444" stroke="#444" stroke-width="0.08" textLength="4.18" lengthAdjust="spacingAndGlyphs">0</text>
<text x="403.13" y="224.20" font-size="7.40" fill="#444" stroke="#444" stroke-width="0.08" textLength="10.17" lengthAdjust="spacingAndGlyphs">2.5</text>
<text x="466.02" y="224.20" font-size="7.40" fill="#444" stroke="#444" stroke-width="0.08" textLength="9.75" lengthAdjust="spacingAndGlyphs">5.0</text>
<text x="372.28" y="233.80" font-size="8.32" fill="#444" stroke="#444" stroke-width="0.08" textLength="87.65" lengthAdjust="spacingAndGlyphs">Average Oncogenic Score</text>
<circle cx="317.1" cy="244.1" r="3.6" fill="#fdfdfd"/>
<circle cx="317.1" cy="244.1" r="2.8" fill="#eb9d85" stroke="#8a4e3e" stroke-width="0.7"/>
<text x="322.56" y="246.40" font-size="7.70" fill="#4a4a4a" stroke="#4a4a4a" stroke-width="0.08" textLength="22.77" lengthAdjust="spacingAndGlyphs">Grade1</text>
<circle cx="366.2" cy="244.1" r="3.6" fill="#fdfdfd"/>
<circle cx="366.2" cy="244.1" r="2.8" fill="#80bfd6" stroke="#345c70" stroke-width="0.7"/>
<text x="371.45" y="246.40" font-size="7.70" fill="#4a4a4a" stroke="#4a4a4a" stroke-width="0.08" textLength="23.51" lengthAdjust="spacingAndGlyphs">Grade2</text>
<circle cx="415.3" cy="244.1" r="3.6" fill="#fdfdfd"/>
<circle cx="415.3" cy="244.1" r="2.8" fill="#80d1ab" stroke="#2f7a5c" stroke-width="0.7"/>
<text x="420.64" y="246.40" font-size="7.70" fill="#4a4a4a" stroke="#4a4a4a" stroke-width="0.08" textLength="23.87" lengthAdjust="spacingAndGlyphs">Grade3</text>
<circle cx="464.5" cy="244.1" r="3.6" fill="#fdfdfd"/>
<circle cx="464.5" cy="244.1" r="2.8" fill="#f1e0ac" stroke="#9a7a3a" stroke-width="0.7"/>
<text x="469.24" y="246.40" font-size="7.70" fill="#4a4a4a" stroke="#4a4a4a" stroke-width="0.08" textLength="23.97" lengthAdjust="spacingAndGlyphs">Grade4</text>
<rect x="1.9" y="1.6" width="516.3" height="1.4" fill="#fdfdfd"/>
<rect x="1.9" y="1.6" width="1.1" height="252.3" fill="#fcfcfc"/>
<rect x="517.2" y="1.6" width="1.0" height="252.3" fill="#fcfcfc"/>
<rect x="1.9" y="252.8" width="516.3" height="1.1" fill="#fcfcfc"/>
<rect x="0" y="0" width="520" height="1.6" fill="#8f8f8f"/>
<rect x="0" y="0" width="1.9" height="256" fill="#9c9c9c"/>
<rect x="518.2" y="0" width="1.8" height="256" fill="#828282"/>
<rect x="0" y="253.9" width="520" height="2.1" fill="#888"/>
</svg>
</body></html>
